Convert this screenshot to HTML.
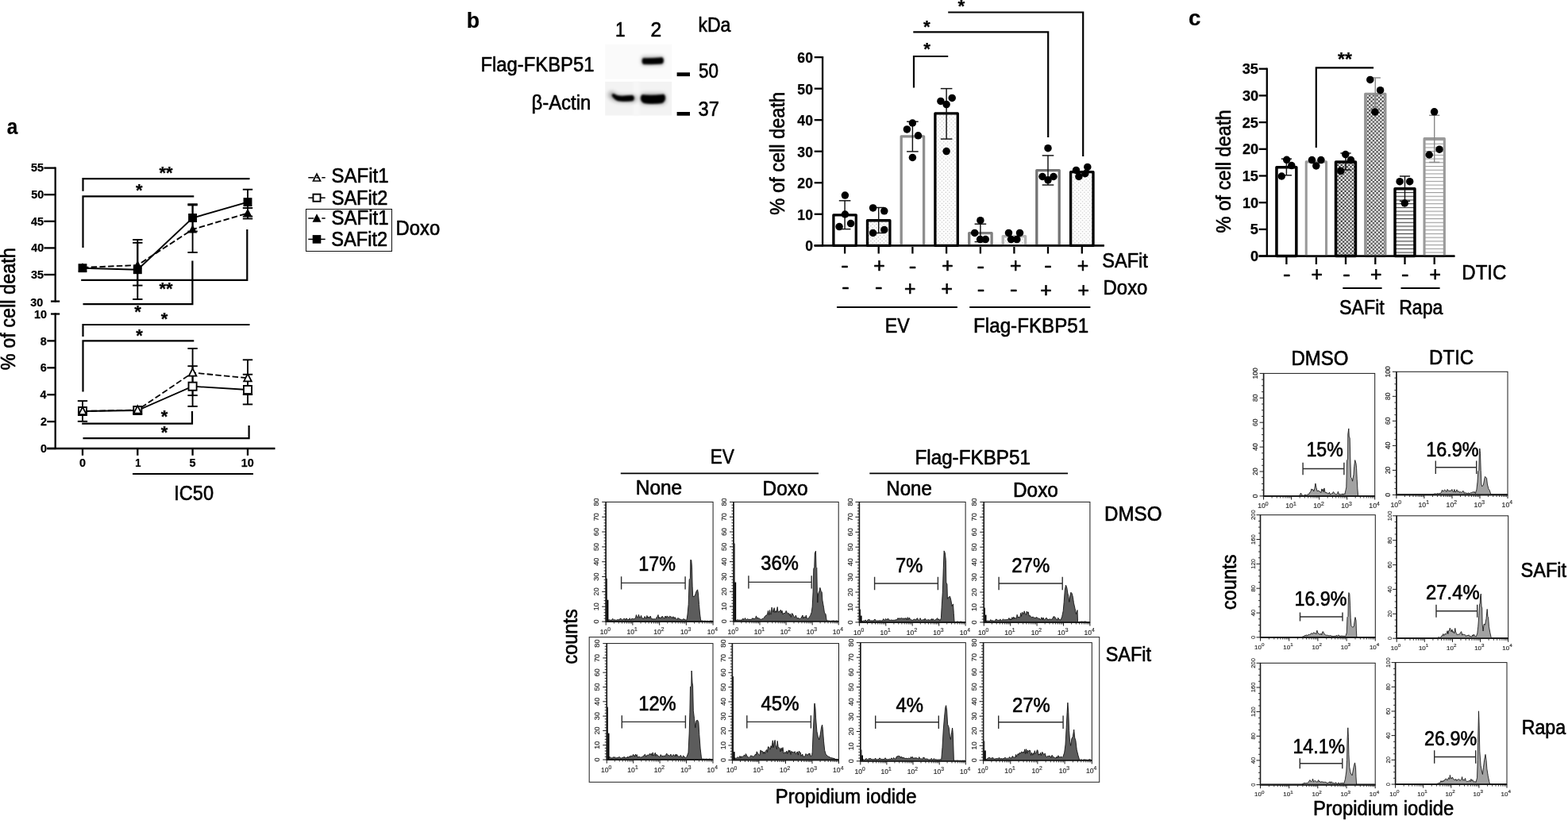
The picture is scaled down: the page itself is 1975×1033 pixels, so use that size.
<!DOCTYPE html>
<html lang="en">
<head>
<meta charset="utf-8">
<title>Figure: SAFit and cell death</title>
<style>
html,body{margin:0;padding:0;background:#fff;}
body{width:1975px;height:1033px;overflow:hidden;}
svg{display:block;}
svg text{font-family:'Liberation Sans', Arial, Helvetica, sans-serif;stroke:#000;stroke-width:0.62px;stroke-linejoin:round;}
svg text.b{stroke-width:0.25px;}
svg text.s{stroke:#2c2c2c;stroke-width:0.18px;}
</style>
</head>
<body>
<svg width="1975" height="1033" viewBox="0 0 1975 1033">
<defs>
<pattern id="dotL" width="4.72" height="4.72" patternUnits="userSpaceOnUse" patternTransform="translate(0.6 0.3)"><rect width="4.72" height="4.72" fill="#fff"/><circle cx="1.18" cy="1.18" r="0.62" fill="#b4b4b4"/><circle cx="3.54" cy="3.54" r="0.62" fill="#b4b4b4"/></pattern>
<pattern id="dotM" width="4.72" height="4.72" patternUnits="userSpaceOnUse" patternTransform="translate(0.6 0.3)"><rect width="4.72" height="4.72" fill="#fff"/><circle cx="1.18" cy="1.18" r="0.7" fill="#a8a8a8"/><circle cx="3.54" cy="3.54" r="0.7" fill="#a8a8a8"/></pattern>
<pattern id="chk" width="4.72" height="4.72" patternUnits="userSpaceOnUse" patternTransform="translate(1.2 1.4)"><rect width="4.72" height="4.72" fill="#fff"/><rect width="2.36" height="2.36" fill="#3c3c3c"/><rect x="2.36" y="2.36" width="2.36" height="2.36" fill="#3c3c3c"/></pattern>
<pattern id="chkG" width="4.72" height="4.72" patternUnits="userSpaceOnUse" patternTransform="translate(1.2 1.4)"><rect width="4.72" height="4.72" fill="#fff"/><rect width="2.36" height="2.36" fill="#4a4a4a"/><rect x="2.36" y="2.36" width="2.36" height="2.36" fill="#4a4a4a"/></pattern>
<pattern id="hl" width="6" height="4.72" patternUnits="userSpaceOnUse" patternTransform="translate(0 1.29)"><rect width="6" height="4.72" fill="#fff"/><rect y="0" width="6" height="1.1" fill="#3a3a3a"/></pattern>
<pattern id="hlG" width="6" height="4.72" patternUnits="userSpaceOnUse" patternTransform="translate(0 1.29)"><rect width="6" height="4.72" fill="#fff"/><rect y="0" width="6" height="1.1" fill="#9c9c9c"/></pattern>
<filter id="blur1" x="-30%" y="-80%" width="160%" height="260%"><feGaussianBlur stdDeviation="1.0"/></filter>
<filter id="blur2" x="-30%" y="-80%" width="160%" height="260%"><feGaussianBlur stdDeviation="2.5"/></filter>
</defs>

<g id="panel-a">
<text font-size="27.5" transform="translate(8.67 169.00) scale(0.8851 1)" font-weight="bold" class="b">a</text>
<text font-size="25.2" transform="translate(19.40 466.22) rotate(-90) scale(0.9325 1)">% of cell death</text>
<line x1="69.70" y1="210.50" x2="69.70" y2="380.70" stroke="#000" stroke-width="2.3"/>
<line x1="69.70" y1="394.40" x2="69.70" y2="566.10" stroke="#000" stroke-width="2.3"/>
<line x1="59.30" y1="565.00" x2="346.50" y2="565.00" stroke="#000" stroke-width="2.3"/>
<line x1="55.40" y1="211.60" x2="69.70" y2="211.60" stroke="#000" stroke-width="2.3"/>
<text font-size="14.4" transform="translate(39.08 216.45) scale(1.0000 1)" font-weight="bold" class="b">55</text>
<line x1="55.40" y1="245.20" x2="69.70" y2="245.20" stroke="#000" stroke-width="2.3"/>
<text font-size="14.4" transform="translate(39.29 250.05) scale(1.0000 1)" font-weight="bold" class="b">50</text>
<line x1="55.40" y1="278.80" x2="69.70" y2="278.80" stroke="#000" stroke-width="2.3"/>
<text font-size="14.4" transform="translate(39.08 283.65) scale(1.0000 1)" font-weight="bold" class="b">45</text>
<line x1="55.40" y1="312.40" x2="69.70" y2="312.40" stroke="#000" stroke-width="2.3"/>
<text font-size="14.4" transform="translate(39.29 317.25) scale(1.0000 1)" font-weight="bold" class="b">40</text>
<line x1="55.40" y1="346.00" x2="69.70" y2="346.00" stroke="#000" stroke-width="2.3"/>
<text font-size="14.4" transform="translate(39.08 350.85) scale(1.0000 1)" font-weight="bold" class="b">35</text>
<line x1="64.00" y1="379.60" x2="75.20" y2="379.60" stroke="#000" stroke-width="2.3"/>
<text font-size="14.4" transform="translate(38.19 385.85) scale(1.0000 1)" font-weight="bold" class="b">30</text>
<line x1="64.00" y1="395.50" x2="75.20" y2="395.50" stroke="#000" stroke-width="2.3"/>
<text font-size="14.4" transform="translate(42.89 401.05) scale(1.0000 1)" font-weight="bold" class="b">10</text>
<line x1="59.30" y1="429.40" x2="69.70" y2="429.40" stroke="#000" stroke-width="2.3"/>
<text font-size="14.4" transform="translate(50.74 434.55) scale(1.0000 1)" font-weight="bold" class="b">8</text>
<line x1="59.30" y1="463.30" x2="69.70" y2="463.30" stroke="#000" stroke-width="2.3"/>
<text font-size="14.4" transform="translate(50.81 468.45) scale(1.0000 1)" font-weight="bold" class="b">6</text>
<line x1="59.30" y1="497.20" x2="69.70" y2="497.20" stroke="#000" stroke-width="2.3"/>
<text font-size="14.4" transform="translate(50.38 502.35) scale(1.0000 1)" font-weight="bold" class="b">4</text>
<line x1="59.30" y1="531.10" x2="69.70" y2="531.10" stroke="#000" stroke-width="2.3"/>
<text font-size="14.4" transform="translate(50.88 536.25) scale(1.0000 1)" font-weight="bold" class="b">2</text>
<line x1="59.30" y1="565.00" x2="69.70" y2="565.00" stroke="#000" stroke-width="2.3"/>
<text font-size="14.4" transform="translate(50.88 570.15) scale(1.0000 1)" font-weight="bold" class="b">0</text>
<line x1="104.00" y1="565.00" x2="104.00" y2="573.80" stroke="#000" stroke-width="2.3"/>
<text font-size="14.4" transform="translate(100.00 587.80) scale(1.0000 1)" font-weight="bold" class="b">0</text>
<line x1="173.30" y1="565.00" x2="173.30" y2="573.80" stroke="#000" stroke-width="2.3"/>
<text font-size="14.4" transform="translate(170.24 587.80) scale(0.9000 1)" font-weight="bold" class="b">1</text>
<line x1="242.60" y1="565.00" x2="242.60" y2="573.80" stroke="#000" stroke-width="2.3"/>
<text font-size="14.4" transform="translate(238.57 587.80) scale(1.0000 1)" font-weight="bold" class="b">5</text>
<line x1="312.00" y1="565.00" x2="312.00" y2="573.80" stroke="#000" stroke-width="2.3"/>
<text font-size="14.4" transform="translate(303.83 587.80) scale(1.0000 1)" font-weight="bold" class="b">10</text>
<line x1="167.00" y1="597.00" x2="319.00" y2="597.00" stroke="#000" stroke-width="2"/>
<text font-size="25.2" transform="translate(219.28 630.30) scale(0.9356 1)">IC50</text>
<path d="M104.5,240.7 V225.2 H314.5" stroke="#000" stroke-width="2.2" fill="none"/>
<path d="M104.5,311.9 V247.4 H244.3" stroke="#000" stroke-width="2.2" fill="none"/>
<path d="M102.2,352.8 H311.3 V289" stroke="#000" stroke-width="2.2" fill="none"/>
<path d="M104.5,383.2 H242.4 V328.6" stroke="#000" stroke-width="2.2" fill="none"/>
<text x="209.00" y="224.62" font-size="22" font-weight="bold" class="b" text-anchor="middle">**</text>
<text x="175.20" y="246.92" font-size="22" font-weight="bold" class="b" text-anchor="middle">*</text>
<text x="209.00" y="371.12" font-size="22" font-weight="bold" class="b" text-anchor="middle">**</text>
<text x="173.60" y="400.12" font-size="22" font-weight="bold" class="b" text-anchor="middle">*</text>
<line x1="173.30" y1="302.00" x2="173.30" y2="377.00" stroke="#000" stroke-width="1.9"/>
<line x1="167.10" y1="302.00" x2="179.50" y2="302.00" stroke="#000" stroke-width="1.9"/>
<line x1="167.10" y1="377.00" x2="179.50" y2="377.00" stroke="#000" stroke-width="1.9"/>
<line x1="173.30" y1="305.80" x2="173.30" y2="359.60" stroke="#000" stroke-width="1.9"/>
<line x1="167.10" y1="305.80" x2="179.50" y2="305.80" stroke="#000" stroke-width="1.9"/>
<line x1="167.10" y1="359.60" x2="179.50" y2="359.60" stroke="#000" stroke-width="1.9"/>
<line x1="242.60" y1="257.20" x2="242.60" y2="291.50" stroke="#000" stroke-width="1.9"/>
<line x1="236.40" y1="257.20" x2="248.80" y2="257.20" stroke="#000" stroke-width="1.9"/>
<line x1="236.40" y1="291.50" x2="248.80" y2="291.50" stroke="#000" stroke-width="1.9"/>
<line x1="242.60" y1="258.40" x2="242.60" y2="318.00" stroke="#000" stroke-width="1.9"/>
<line x1="236.40" y1="258.40" x2="248.80" y2="258.40" stroke="#000" stroke-width="1.9"/>
<line x1="236.40" y1="318.00" x2="248.80" y2="318.00" stroke="#000" stroke-width="1.9"/>
<line x1="312.00" y1="238.70" x2="312.00" y2="272.60" stroke="#000" stroke-width="1.9"/>
<line x1="305.80" y1="238.70" x2="318.20" y2="238.70" stroke="#000" stroke-width="1.9"/>
<line x1="305.80" y1="272.60" x2="318.20" y2="272.60" stroke="#000" stroke-width="1.9"/>
<line x1="312.00" y1="262.00" x2="312.00" y2="275.50" stroke="#000" stroke-width="1.9"/>
<line x1="305.80" y1="262.00" x2="318.20" y2="262.00" stroke="#000" stroke-width="1.9"/>
<line x1="305.80" y1="275.50" x2="318.20" y2="275.50" stroke="#000" stroke-width="1.9"/>
<path d="M104.00,337.00 L173.30,334.00 L242.60,289.00 L312.00,268.50" stroke="#000" stroke-width="1.9" fill="none" stroke-dasharray="7.5 3.2"/>
<path d="M104.00,337.70 L173.30,339.70 L242.60,274.50 L312.00,254.60" stroke="#000" stroke-width="1.9" fill="none"/>
<polygon points="104.00,330.94 109.50,341.39 98.50,341.39" fill="#000"/>
<polygon points="173.30,327.94 178.80,338.39 167.80,338.39" fill="#000"/>
<polygon points="242.60,282.94 248.10,293.39 237.10,293.39" fill="#000"/>
<polygon points="312.00,262.44 317.50,272.89 306.50,272.89" fill="#000"/>
<rect x="98.55" y="332.25" width="10.90" height="10.90" fill="#000"/>
<rect x="167.85" y="334.25" width="10.90" height="10.90" fill="#000"/>
<rect x="237.15" y="269.05" width="10.90" height="10.90" fill="#000"/>
<rect x="306.55" y="249.15" width="10.90" height="10.90" fill="#000"/>
<path d="M104.5,423.9 V409 H314.5" stroke="#000" stroke-width="2.2" fill="none"/>
<path d="M104.5,493.6 V429.3 H244.3" stroke="#000" stroke-width="2.2" fill="none"/>
<path d="M103.2,533.6 H242 V518" stroke="#000" stroke-width="2.2" fill="none"/>
<path d="M104.5,552.1 H313.6 V536" stroke="#000" stroke-width="2.2" fill="none"/>
<text x="207.00" y="408.82" font-size="22" font-weight="bold" class="b" text-anchor="middle">*</text>
<text x="175.60" y="429.52" font-size="22" font-weight="bold" class="b" text-anchor="middle">*</text>
<text x="207.00" y="532.42" font-size="22" font-weight="bold" class="b" text-anchor="middle">*</text>
<text x="207.00" y="552.02" font-size="22" font-weight="bold" class="b" text-anchor="middle">*</text>
<line x1="104.00" y1="505.10" x2="104.00" y2="530.80" stroke="#000" stroke-width="1.9"/>
<line x1="97.80" y1="505.10" x2="110.20" y2="505.10" stroke="#000" stroke-width="1.9"/>
<line x1="97.80" y1="530.80" x2="110.20" y2="530.80" stroke="#000" stroke-width="1.9"/>
<line x1="242.60" y1="439.00" x2="242.60" y2="498.10" stroke="#000" stroke-width="1.9"/>
<line x1="236.40" y1="439.00" x2="248.80" y2="439.00" stroke="#000" stroke-width="1.9"/>
<line x1="236.40" y1="498.10" x2="248.80" y2="498.10" stroke="#000" stroke-width="1.9"/>
<line x1="242.60" y1="461.20" x2="242.60" y2="511.90" stroke="#000" stroke-width="1.9"/>
<line x1="236.40" y1="461.20" x2="248.80" y2="461.20" stroke="#000" stroke-width="1.9"/>
<line x1="236.40" y1="511.90" x2="248.80" y2="511.90" stroke="#000" stroke-width="1.9"/>
<line x1="312.00" y1="453.30" x2="312.00" y2="497.00" stroke="#000" stroke-width="1.9"/>
<line x1="305.80" y1="453.30" x2="318.20" y2="453.30" stroke="#000" stroke-width="1.9"/>
<line x1="305.80" y1="497.00" x2="318.20" y2="497.00" stroke="#000" stroke-width="1.9"/>
<line x1="312.00" y1="471.70" x2="312.00" y2="509.40" stroke="#000" stroke-width="1.9"/>
<line x1="305.80" y1="471.70" x2="318.20" y2="471.70" stroke="#000" stroke-width="1.9"/>
<line x1="305.80" y1="509.40" x2="318.20" y2="509.40" stroke="#000" stroke-width="1.9"/>
<path d="M104.00,518.00 L173.30,516.50 L242.60,469.50 L312.00,476.30" stroke="#000" stroke-width="1.8" fill="none" stroke-dasharray="7.5 3.2"/>
<path d="M104.00,518.00 L173.30,517.00 L242.60,486.70 L312.00,491.00" stroke="#000" stroke-width="1.8" fill="none"/>
<rect x="98.95" y="512.95" width="10.10" height="10.10" fill="#fff" stroke="#000" stroke-width="1.9"/>
<rect x="168.25" y="511.95" width="10.10" height="10.10" fill="#fff" stroke="#000" stroke-width="1.9"/>
<rect x="237.55" y="481.65" width="10.10" height="10.10" fill="#fff" stroke="#000" stroke-width="1.9"/>
<rect x="306.95" y="485.95" width="10.10" height="10.10" fill="#fff" stroke="#000" stroke-width="1.9"/>
<polygon points="104.00,512.61 108.80,522.03 99.20,522.03" fill="#fff" stroke="#000" stroke-width="1.8" stroke-linejoin="miter"/>
<polygon points="173.30,511.11 178.10,520.53 168.50,520.53" fill="#fff" stroke="#000" stroke-width="1.8" stroke-linejoin="miter"/>
<polygon points="242.60,464.11 247.40,473.53 237.80,473.53" fill="#fff" stroke="#000" stroke-width="1.8" stroke-linejoin="miter"/>
<polygon points="312.00,470.91 316.80,480.33 307.20,480.33" fill="#fff" stroke="#000" stroke-width="1.8" stroke-linejoin="miter"/>
<line x1="388.30" y1="223.70" x2="409.70" y2="223.70" stroke="#000" stroke-width="1.5" stroke-dasharray="7 3 4 3"/>
<polygon points="399.00,219.14 403.50,227.99 394.50,227.99" fill="none" stroke="#000" stroke-width="1.7" stroke-linejoin="miter"/>
<text font-size="25.2" transform="translate(417.62 229.90) scale(0.9507 1)">SAFit1</text>
<line x1="388.30" y1="249.20" x2="409.70" y2="249.20" stroke="#000" stroke-width="1.5"/>
<rect x="394.45" y="244.65" width="9.10" height="9.10" fill="#fff" stroke="#000" stroke-width="1.9"/>
<text font-size="25.2" transform="translate(417.64 257.50) scale(0.9371 1)">SAFit2</text>
<line x1="388.30" y1="274.90" x2="409.70" y2="274.90" stroke="#000" stroke-width="1.5" stroke-dasharray="7 3 4 3"/>
<polygon points="399.00,269.34 404.50,279.79 393.50,279.79" fill="#000"/>
<text font-size="25.2" transform="translate(417.62 282.90) scale(0.9507 1)">SAFit1</text>
<line x1="388.30" y1="301.40" x2="409.70" y2="301.40" stroke="#000" stroke-width="1.5"/>
<rect x="393.70" y="296.10" width="10.60" height="10.60" fill="#000"/>
<text font-size="25.2" transform="translate(417.24 310.20) scale(0.9384 1)">SAFit2</text>
<rect x="385.50" y="263.50" width="108.00" height="53.00" fill="none" stroke="#111" stroke-width="1"/>
<text font-size="25.2" transform="translate(498.59 296.40) scale(0.9459 1)">Doxo</text>
</g>
<g id="panel-b">
<text font-size="27.5" transform="translate(587.86 34.90) scale(0.9721 1)" font-weight="bold" class="b">b</text>
<text font-size="25.2" transform="translate(605.39 89.90) scale(0.9463 1)">Flag-FKBP51</text>
<text font-size="25.2" transform="translate(669.42 137.70) scale(0.9500 1)">β-Actin</text>
<text font-size="25.2" transform="translate(775.02 45.70) scale(0.9000 1)">1</text>
<text font-size="25.2" transform="translate(819.57 45.70) scale(0.9768 1)">2</text>
<text font-size="25.2" transform="translate(879.40 39.60) scale(0.9140 1)">kDa</text>
<text font-size="25.2" transform="translate(880.00 98.20) scale(0.8895 1)">50</text>
<text font-size="25.2" transform="translate(879.45 145.50) scale(0.9415 1)">37</text>
<rect x="852.60" y="91.30" width="16.40" height="4.80" fill="#000"/>
<rect x="852.60" y="141.00" width="16.40" height="4.70" fill="#000"/>
<rect x="762.20" y="55.70" width="84.00" height="44.10" fill="#fafafa"/>
<rect x="762.20" y="102.80" width="84.00" height="42.70" fill="#f3f3f3"/>
<rect x="797.50" y="102.80" width="8.00" height="42.70" fill="#f7f7f7" filter="url(#blur1)"/>
<g filter="url(#blur2)" opacity="0.3">
<rect x="808.00" y="71.00" width="28.00" height="11.00" fill="#000" rx="3"/>
<path d="M770.5,119.5 C776,126 786,124.0 798,124.2" stroke="#000" stroke-width="9" fill="none" stroke-linecap="round"/>
<rect x="806.50" y="117.50" width="32.50" height="14.00" fill="#000" rx="5"/>
</g>
<g filter="url(#blur1)">
<path d="M810.2,73.6 C816,73.9 828,73.3 834.0,72.6 C836.0,73.6 836.0,78.6 834.2,79.9 C828,80.6 816,81.0 810.4,80.6 C808.6,79.6 808.6,74.6 810.2,73.6 Z" fill="#000" stroke="#000" stroke-width="0.8"/>
<path d="M771.5,118.6 C773.5,117.8 776,120.6 780,121.0 C786,121.6 793,120.0 797.0,120.4 C798.9,121.6 798.9,125.6 797.0,126.8 C791,127.6 784,127.6 779.5,127.0 C775.5,126.2 771.5,122.6 771.0,120.2 Z" fill="#000" stroke="#000" stroke-width="0.8"/>
<path d="M809.0,119.6 C815,120.4 830,120.4 835.8,119.0 C838.6,120.6 838.6,127.6 834.0,129.6 C826,130.9 815,130.7 810.6,129.4 C806.4,127.4 806.4,121.4 809.0,119.6 Z" fill="#000" stroke="#000" stroke-width="0.8"/>
</g>
<text font-size="25.2" transform="translate(987.90 270.63) rotate(-90) scale(0.9368 1)">% of cell death</text>
<line x1="1036.10" y1="71.02" x2="1036.10" y2="310.40" stroke="#000" stroke-width="2.3"/>
<line x1="1025.70" y1="309.30" x2="1390.80" y2="309.30" stroke="#000" stroke-width="2.3"/>
<line x1="1025.70" y1="309.30" x2="1036.10" y2="309.30" stroke="#000" stroke-width="2.3"/>
<text font-size="17.6" transform="translate(1014.14 316.35) scale(1.0000 1)" font-weight="bold" class="b">0</text>
<line x1="1025.70" y1="269.77" x2="1036.10" y2="269.77" stroke="#000" stroke-width="2.3"/>
<text font-size="17.6" transform="translate(1004.37 276.82) scale(1.0000 1)" font-weight="bold" class="b">10</text>
<line x1="1025.70" y1="230.24" x2="1036.10" y2="230.24" stroke="#000" stroke-width="2.3"/>
<text font-size="17.6" transform="translate(1004.37 237.29) scale(1.0000 1)" font-weight="bold" class="b">20</text>
<line x1="1025.70" y1="190.71" x2="1036.10" y2="190.71" stroke="#000" stroke-width="2.3"/>
<text font-size="17.6" transform="translate(1004.37 197.76) scale(1.0000 1)" font-weight="bold" class="b">30</text>
<line x1="1025.70" y1="151.18" x2="1036.10" y2="151.18" stroke="#000" stroke-width="2.3"/>
<text font-size="17.6" transform="translate(1004.37 158.23) scale(1.0000 1)" font-weight="bold" class="b">40</text>
<line x1="1025.70" y1="111.65" x2="1036.10" y2="111.65" stroke="#000" stroke-width="2.3"/>
<text font-size="17.6" transform="translate(1004.37 118.70) scale(1.0000 1)" font-weight="bold" class="b">50</text>
<line x1="1025.70" y1="72.12" x2="1036.10" y2="72.12" stroke="#000" stroke-width="2.3"/>
<text font-size="17.6" transform="translate(1004.37 79.17) scale(1.0000 1)" font-weight="bold" class="b">60</text>
<line x1="1064.10" y1="309.30" x2="1064.10" y2="319.50" stroke="#000" stroke-width="2.3"/>
<line x1="1106.70" y1="309.30" x2="1106.70" y2="319.50" stroke="#000" stroke-width="2.3"/>
<line x1="1149.40" y1="309.30" x2="1149.40" y2="319.50" stroke="#000" stroke-width="2.3"/>
<line x1="1192.10" y1="309.30" x2="1192.10" y2="319.50" stroke="#000" stroke-width="2.3"/>
<line x1="1234.90" y1="309.30" x2="1234.90" y2="319.50" stroke="#000" stroke-width="2.3"/>
<line x1="1277.40" y1="309.30" x2="1277.40" y2="319.50" stroke="#000" stroke-width="2.3"/>
<line x1="1320.00" y1="309.30" x2="1320.00" y2="319.50" stroke="#000" stroke-width="2.3"/>
<line x1="1362.80" y1="309.30" x2="1362.80" y2="319.50" stroke="#000" stroke-width="2.3"/>
<rect x="1049.90" y="270.85" width="28.40" height="38.45" fill="#fff" stroke="#000" stroke-width="3.3" stroke-linejoin="round"/>
<rect x="1092.50" y="277.75" width="28.40" height="31.55" fill="url(#dotM)" stroke="#000" stroke-width="3.3" stroke-linejoin="round"/>
<rect x="1135.20" y="171.85" width="28.40" height="137.45" fill="#fff" stroke="#8e8e8e" stroke-width="3.3" stroke-linejoin="round"/>
<rect x="1177.90" y="142.95" width="28.40" height="166.35" fill="url(#dotL)" stroke="#000" stroke-width="3.3" stroke-linejoin="round"/>
<rect x="1220.70" y="293.55" width="28.40" height="15.75" fill="#fff" stroke="#808080" stroke-width="3.3" stroke-linejoin="round"/>
<rect x="1263.20" y="297.55" width="28.40" height="11.75" fill="url(#dotM)" stroke="#b4b4b4" stroke-width="3.3" stroke-linejoin="round"/>
<rect x="1305.80" y="214.55" width="28.40" height="94.75" fill="#fff" stroke="#747474" stroke-width="3.3" stroke-linejoin="round"/>
<rect x="1348.60" y="216.65" width="28.40" height="92.65" fill="url(#dotL)" stroke="#000" stroke-width="3.3" stroke-linejoin="round"/>
<line x1="1025.70" y1="309.30" x2="1390.80" y2="309.30" stroke="#000" stroke-width="2.3"/>
<line x1="1064.10" y1="252.80" x2="1064.10" y2="288.60" stroke="#111" stroke-width="1.45"/>
<line x1="1056.80" y1="252.80" x2="1071.40" y2="252.80" stroke="#111" stroke-width="1.45"/>
<line x1="1056.80" y1="288.60" x2="1071.40" y2="288.60" stroke="#111" stroke-width="1.45"/>
<line x1="1106.70" y1="261.50" x2="1106.70" y2="293.50" stroke="#111" stroke-width="1.45"/>
<line x1="1099.40" y1="261.50" x2="1114.00" y2="261.50" stroke="#111" stroke-width="1.45"/>
<line x1="1099.40" y1="293.50" x2="1114.00" y2="293.50" stroke="#111" stroke-width="1.45"/>
<line x1="1149.40" y1="153.20" x2="1149.40" y2="190.90" stroke="#111" stroke-width="1.45"/>
<line x1="1142.10" y1="153.20" x2="1156.70" y2="153.20" stroke="#111" stroke-width="1.45"/>
<line x1="1142.10" y1="190.90" x2="1156.70" y2="190.90" stroke="#111" stroke-width="1.45"/>
<line x1="1192.10" y1="111.60" x2="1192.10" y2="175.10" stroke="#111" stroke-width="1.45"/>
<line x1="1184.80" y1="111.60" x2="1199.40" y2="111.60" stroke="#111" stroke-width="1.45"/>
<line x1="1184.80" y1="175.10" x2="1199.40" y2="175.10" stroke="#111" stroke-width="1.45"/>
<line x1="1234.90" y1="282.20" x2="1234.90" y2="304.60" stroke="#111" stroke-width="1.45"/>
<line x1="1227.60" y1="282.20" x2="1242.20" y2="282.20" stroke="#111" stroke-width="1.45"/>
<line x1="1227.60" y1="304.60" x2="1242.20" y2="304.60" stroke="#111" stroke-width="1.45"/>
<line x1="1320.00" y1="195.90" x2="1320.00" y2="233.00" stroke="#111" stroke-width="1.45"/>
<line x1="1312.70" y1="195.90" x2="1327.30" y2="195.90" stroke="#111" stroke-width="1.45"/>
<line x1="1312.70" y1="233.00" x2="1327.30" y2="233.00" stroke="#111" stroke-width="1.45"/>
<circle cx="1064.40" cy="246.10" r="4.75" fill="#000"/>
<circle cx="1064.40" cy="270.00" r="4.75" fill="#000"/>
<circle cx="1057.10" cy="285.60" r="4.75" fill="#000"/>
<circle cx="1071.60" cy="281.60" r="4.75" fill="#000"/>
<circle cx="1099.60" cy="261.90" r="4.75" fill="#000"/>
<circle cx="1113.80" cy="265.80" r="4.75" fill="#000"/>
<circle cx="1099.60" cy="293.50" r="4.75" fill="#000"/>
<circle cx="1113.80" cy="289.50" r="4.75" fill="#000"/>
<circle cx="1149.40" cy="155.00" r="4.75" fill="#000"/>
<circle cx="1142.40" cy="162.90" r="4.75" fill="#000"/>
<circle cx="1156.50" cy="170.80" r="4.75" fill="#000"/>
<circle cx="1149.40" cy="198.50" r="4.75" fill="#000"/>
<circle cx="1184.90" cy="127.40" r="4.75" fill="#000"/>
<circle cx="1199.20" cy="123.40" r="4.75" fill="#000"/>
<circle cx="1192.10" cy="131.60" r="4.75" fill="#000"/>
<circle cx="1192.10" cy="190.60" r="4.75" fill="#000"/>
<circle cx="1234.90" cy="277.70" r="4.75" fill="#000"/>
<circle cx="1227.70" cy="293.40" r="4.75" fill="#000"/>
<circle cx="1234.60" cy="301.60" r="4.75" fill="#000"/>
<circle cx="1241.30" cy="301.60" r="4.75" fill="#000"/>
<circle cx="1270.50" cy="293.40" r="4.75" fill="#000"/>
<circle cx="1284.50" cy="293.40" r="4.75" fill="#000"/>
<circle cx="1273.50" cy="301.60" r="4.75" fill="#000"/>
<circle cx="1280.80" cy="301.60" r="4.75" fill="#000"/>
<circle cx="1320.00" cy="186.70" r="4.75" fill="#000"/>
<circle cx="1313.00" cy="222.50" r="4.75" fill="#000"/>
<circle cx="1327.00" cy="222.50" r="4.75" fill="#000"/>
<circle cx="1320.00" cy="226.80" r="4.75" fill="#000"/>
<circle cx="1355.50" cy="214.40" r="4.75" fill="#000"/>
<circle cx="1369.80" cy="210.40" r="4.75" fill="#000"/>
<circle cx="1358.90" cy="222.50" r="4.75" fill="#000"/>
<circle cx="1366.80" cy="218.70" r="4.75" fill="#000"/>
<line x1="1275.50" y1="293.60" x2="1275.50" y2="297.00" stroke="#fff" stroke-width="1.0"/>
<line x1="1279.30" y1="293.60" x2="1279.30" y2="297.00" stroke="#fff" stroke-width="1.0"/>
<line x1="1275.00" y1="294.70" x2="1279.80" y2="294.70" stroke="#fff" stroke-width="0.9"/>
<line x1="1360.90" y1="212.00" x2="1360.90" y2="215.20" stroke="#fff" stroke-width="1.0"/>
<line x1="1364.70" y1="212.00" x2="1364.70" y2="215.20" stroke="#fff" stroke-width="1.0"/>
<line x1="1360.40" y1="213.00" x2="1365.20" y2="213.00" stroke="#fff" stroke-width="0.9"/>
<path d="M1151,110.6 V71 H1194.2" stroke="#000" stroke-width="2.2" fill="none"/>
<path d="M1150.3,40.3 H1320.2 V173" stroke="#000" stroke-width="2.2" fill="none"/>
<path d="M1194.2,15.5 H1364.2 V197" stroke="#000" stroke-width="2.2" fill="none"/>
<text x="1167.60" y="69.45" font-size="22.5" font-weight="bold" class="b" text-anchor="middle">*</text>
<text x="1167.30" y="40.55" font-size="22.5" font-weight="bold" class="b" text-anchor="middle">*</text>
<text x="1211.00" y="15.45" font-size="22.5" font-weight="bold" class="b" text-anchor="middle">*</text>
<text font-size="25.2" transform="translate(1059.21 343.40) scale(1.1338 1)">-</text>
<text font-size="25.2" transform="translate(1100.26 342.64) scale(0.9818 1)">+</text>
<text font-size="25.2" transform="translate(1144.81 343.80) scale(1.1338 1)">-</text>
<text font-size="25.2" transform="translate(1186.26 343.44) scale(0.9818 1)">+</text>
<text font-size="25.2" transform="translate(1230.41 343.70) scale(1.1338 1)">-</text>
<text font-size="25.2" transform="translate(1271.96 342.94) scale(0.9818 1)">+</text>
<text font-size="25.2" transform="translate(1315.21 343.10) scale(1.1338 1)">-</text>
<text font-size="25.2" transform="translate(1356.76 342.64) scale(0.9818 1)">+</text>
<text font-size="25.2" transform="translate(1060.21 370.20) scale(1.1338 1)">-</text>
<text font-size="25.2" transform="translate(1101.91 370.20) scale(1.1338 1)">-</text>
<text font-size="25.2" transform="translate(1138.96 372.14) scale(0.9818 1)">+</text>
<text font-size="25.2" transform="translate(1185.56 372.14) scale(0.9818 1)">+</text>
<text font-size="25.2" transform="translate(1230.71 372.60) scale(1.1338 1)">-</text>
<text font-size="25.2" transform="translate(1272.01 372.60) scale(1.1338 1)">-</text>
<text font-size="25.2" transform="translate(1310.36 373.84) scale(0.9818 1)">+</text>
<text font-size="25.2" transform="translate(1357.46 373.84) scale(0.9818 1)">+</text>
<text font-size="25.2" transform="translate(1388.34 336.50) scale(0.9345 1)">SAFit</text>
<text font-size="25.2" transform="translate(1389.59 370.50) scale(0.9495 1)">Doxo</text>
<line x1="1054.00" y1="386.90" x2="1205.90" y2="386.90" stroke="#000" stroke-width="2"/>
<line x1="1221.20" y1="386.90" x2="1373.40" y2="386.90" stroke="#000" stroke-width="2"/>
<text font-size="25.2" transform="translate(1114.74 418.50) scale(0.9238 1)">EV</text>
<text font-size="25.2" transform="translate(1226.07 418.50) scale(0.9598 1)">Flag-FKBP51</text>
</g>
<g id="panel-c">
<text font-size="27.8" transform="translate(1497.09 31.80) scale(0.9938 1)" font-weight="bold" class="b">c</text>
<text font-size="25.2" transform="translate(1549.70 293.43) rotate(-90) scale(0.9386 1)">% of cell death</text>
<line x1="1595.80" y1="85.60" x2="1595.80" y2="323.70" stroke="#000" stroke-width="2.3"/>
<line x1="1585.70" y1="322.60" x2="1832.40" y2="322.60" stroke="#000" stroke-width="2.3"/>
<line x1="1585.70" y1="322.60" x2="1595.80" y2="322.60" stroke="#000" stroke-width="2.3"/>
<text font-size="18.2" transform="translate(1575.03 329.16) scale(1.0000 1)" font-weight="bold" class="b">0</text>
<line x1="1585.70" y1="288.90" x2="1595.80" y2="288.90" stroke="#000" stroke-width="2.3"/>
<text font-size="18.2" transform="translate(1574.75 295.46) scale(1.0000 1)" font-weight="bold" class="b">5</text>
<line x1="1585.70" y1="255.20" x2="1595.80" y2="255.20" stroke="#000" stroke-width="2.3"/>
<text font-size="18.2" transform="translate(1564.93 261.76) scale(1.0000 1)" font-weight="bold" class="b">10</text>
<line x1="1585.70" y1="221.50" x2="1595.80" y2="221.50" stroke="#000" stroke-width="2.3"/>
<text font-size="18.2" transform="translate(1564.65 228.06) scale(1.0000 1)" font-weight="bold" class="b">15</text>
<line x1="1585.70" y1="187.80" x2="1595.80" y2="187.80" stroke="#000" stroke-width="2.3"/>
<text font-size="18.2" transform="translate(1564.93 194.36) scale(1.0000 1)" font-weight="bold" class="b">20</text>
<line x1="1585.70" y1="154.10" x2="1595.80" y2="154.10" stroke="#000" stroke-width="2.3"/>
<text font-size="18.2" transform="translate(1564.65 160.66) scale(1.0000 1)" font-weight="bold" class="b">25</text>
<line x1="1585.70" y1="120.40" x2="1595.80" y2="120.40" stroke="#000" stroke-width="2.3"/>
<text font-size="18.2" transform="translate(1564.93 126.96) scale(1.0000 1)" font-weight="bold" class="b">30</text>
<line x1="1585.70" y1="86.70" x2="1595.80" y2="86.70" stroke="#000" stroke-width="2.3"/>
<text font-size="18.2" transform="translate(1564.65 93.26) scale(1.0000 1)" font-weight="bold" class="b">35</text>
<line x1="1620.40" y1="322.60" x2="1620.40" y2="333.00" stroke="#000" stroke-width="2.3"/>
<line x1="1657.90" y1="322.60" x2="1657.90" y2="333.00" stroke="#000" stroke-width="2.3"/>
<line x1="1695.00" y1="322.60" x2="1695.00" y2="333.00" stroke="#000" stroke-width="2.3"/>
<line x1="1732.30" y1="322.60" x2="1732.30" y2="333.00" stroke="#000" stroke-width="2.3"/>
<line x1="1769.50" y1="322.60" x2="1769.50" y2="333.00" stroke="#000" stroke-width="2.3"/>
<line x1="1806.70" y1="322.60" x2="1806.70" y2="333.00" stroke="#000" stroke-width="2.3"/>
<rect x="1607.95" y="210.65" width="24.90" height="111.95" fill="#fff" stroke="#000" stroke-width="3.5" stroke-linejoin="round"/>
<rect x="1645.25" y="203.85" width="25.30" height="118.75" fill="#fff" stroke="#9a9a9a" stroke-width="3.1" stroke-linejoin="round"/>
<rect x="1682.55" y="204.05" width="24.90" height="118.55" fill="url(#chk)" stroke="#000" stroke-width="3.5" stroke-linejoin="round"/>
<rect x="1719.65" y="118.35" width="25.30" height="204.25" fill="url(#chkG)" stroke="#949494" stroke-width="3.1" stroke-linejoin="round"/>
<rect x="1757.05" y="237.75" width="24.90" height="84.85" fill="url(#hl)" stroke="#000" stroke-width="3.5" stroke-linejoin="round"/>
<rect x="1794.05" y="174.65" width="25.30" height="147.95" fill="url(#hlG)" stroke="#9a9a9a" stroke-width="3.1" stroke-linejoin="round"/>
<line x1="1585.70" y1="322.60" x2="1832.40" y2="322.60" stroke="#000" stroke-width="2.3"/>
<line x1="1620.40" y1="200.10" x2="1620.40" y2="220.80" stroke="#111" stroke-width="1.45"/>
<line x1="1613.80" y1="200.10" x2="1627.00" y2="200.10" stroke="#111" stroke-width="1.45"/>
<line x1="1613.80" y1="220.80" x2="1627.00" y2="220.80" stroke="#111" stroke-width="1.45"/>
<line x1="1695.00" y1="193.00" x2="1695.00" y2="214.00" stroke="#111" stroke-width="1.45"/>
<line x1="1688.40" y1="193.00" x2="1701.60" y2="193.00" stroke="#111" stroke-width="1.45"/>
<line x1="1688.40" y1="214.00" x2="1701.60" y2="214.00" stroke="#111" stroke-width="1.45"/>
<line x1="1732.30" y1="98.00" x2="1732.30" y2="138.80" stroke="#8a8a8a" stroke-width="1.45"/>
<line x1="1725.70" y1="98.00" x2="1738.90" y2="98.00" stroke="#8a8a8a" stroke-width="1.45"/>
<line x1="1725.70" y1="138.80" x2="1738.90" y2="138.80" stroke="#8a8a8a" stroke-width="1.45"/>
<line x1="1769.50" y1="222.00" x2="1769.50" y2="253.30" stroke="#111" stroke-width="1.45"/>
<line x1="1762.90" y1="222.00" x2="1776.10" y2="222.00" stroke="#111" stroke-width="1.45"/>
<line x1="1762.90" y1="253.30" x2="1776.10" y2="253.30" stroke="#111" stroke-width="1.45"/>
<line x1="1806.70" y1="145.30" x2="1806.70" y2="204.40" stroke="#8a8a8a" stroke-width="1.45"/>
<line x1="1800.10" y1="145.30" x2="1813.30" y2="145.30" stroke="#8a8a8a" stroke-width="1.45"/>
<line x1="1800.10" y1="204.40" x2="1813.30" y2="204.40" stroke="#8a8a8a" stroke-width="1.45"/>
<circle cx="1620.70" cy="201.30" r="4.75" fill="#000"/>
<circle cx="1626.80" cy="208.60" r="4.75" fill="#000"/>
<circle cx="1614.30" cy="222.00" r="4.75" fill="#000"/>
<circle cx="1652.50" cy="201.60" r="4.75" fill="#000"/>
<circle cx="1663.90" cy="201.60" r="4.75" fill="#000"/>
<circle cx="1657.80" cy="208.90" r="4.75" fill="#000"/>
<circle cx="1694.80" cy="194.60" r="4.75" fill="#000"/>
<circle cx="1701.50" cy="201.60" r="4.75" fill="#000"/>
<circle cx="1688.80" cy="215.30" r="4.75" fill="#000"/>
<circle cx="1725.80" cy="100.40" r="4.75" fill="#000"/>
<circle cx="1738.60" cy="113.70" r="4.75" fill="#000"/>
<circle cx="1731.90" cy="141.10" r="4.75" fill="#000"/>
<circle cx="1763.10" cy="228.70" r="4.75" fill="#000"/>
<circle cx="1775.70" cy="228.70" r="4.75" fill="#000"/>
<circle cx="1769.30" cy="256.00" r="4.75" fill="#000"/>
<circle cx="1806.60" cy="140.80" r="4.75" fill="#000"/>
<circle cx="1813.00" cy="188.20" r="4.75" fill="#000"/>
<circle cx="1800.20" cy="195.00" r="4.75" fill="#000"/>
<path d="M1657.8,186 V85.4 H1730.1" stroke="#000" stroke-width="2.2" fill="none"/>
<text x="1694.00" y="83.18" font-size="23" font-weight="bold" class="b" text-anchor="middle">**</text>
<text font-size="25.2" transform="translate(1615.91 354.40) scale(1.1338 1)">-</text>
<text font-size="25.2" transform="translate(1651.46 354.04) scale(0.9818 1)">+</text>
<text font-size="25.2" transform="translate(1691.21 354.40) scale(1.1338 1)">-</text>
<text font-size="25.2" transform="translate(1726.06 354.04) scale(0.9818 1)">+</text>
<text font-size="25.2" transform="translate(1765.01 354.40) scale(1.1338 1)">-</text>
<text font-size="25.2" transform="translate(1800.56 354.04) scale(0.9818 1)">+</text>
<text font-size="25.2" transform="translate(1841.27 352.20) scale(0.9549 1)">DTIC</text>
<line x1="1691.30" y1="363.00" x2="1740.60" y2="363.00" stroke="#000" stroke-width="2"/>
<line x1="1764.50" y1="363.00" x2="1813.60" y2="363.00" stroke="#000" stroke-width="2"/>
<text font-size="25.2" transform="translate(1686.95 395.90) scale(0.9229 1)">SAFit</text>
<text font-size="25.2" transform="translate(1762.15 395.90) scale(0.9173 1)">Rapa</text>
</g>
<g id="hist">
<text font-size="25.2" transform="translate(894.69 584.00) scale(0.8984 1)">EV</text>
<line x1="781.80" y1="596.30" x2="1031.00" y2="596.30" stroke="#000" stroke-width="1.8"/>
<text font-size="25.2" transform="translate(1152.46 584.70) scale(0.9625 1)">Flag-FKBP51</text>
<line x1="1095.30" y1="596.30" x2="1345.00" y2="596.30" stroke="#000" stroke-width="1.8"/>
<text font-size="25.2" transform="translate(800.74 623.00) scale(0.9706 1)">None</text>
<text font-size="25.2" transform="translate(960.54 624.00) scale(0.9710 1)">Doxo</text>
<text font-size="25.2" transform="translate(1116.27 623.50) scale(0.9566 1)">None</text>
<text font-size="25.2" transform="translate(1276.05 625.50) scale(0.9656 1)">Doxo</text>
<text font-size="25.2" transform="translate(1391.07 655.70) scale(0.9582 1)">DMSO</text>
<text font-size="25.2" transform="translate(1392.64 832.70) scale(0.9328 1)">SAFit</text>
<text font-size="25.2" transform="translate(727.30 836.87) rotate(-90) scale(0.9405 1)">counts</text>
<text font-size="25.2" transform="translate(976.79 1011.50) scale(0.9475 1)">Propidium iodide</text>
<rect x="742.20" y="802.60" width="642.50" height="182.70" fill="none" stroke="#333" stroke-width="1.1"/>
<rect x="763.20" y="632.40" width="134.90" height="150.60" fill="#fff" stroke="#1a1a1a" stroke-width="1.0"/>
<path d="M763.2,632.4 V783.0 H898.1" stroke="#1a1a1a" stroke-width="1.6" fill="none"/>
<text font-size="9.2" fill="#2c2c2c" class="s" text-anchor="middle" transform="translate(754.30 783.00) rotate(-90)">0</text>
<text font-size="9.2" fill="#2c2c2c" class="s" text-anchor="middle" transform="translate(754.30 764.17) rotate(-90)">10</text>
<text font-size="9.2" fill="#2c2c2c" class="s" text-anchor="middle" transform="translate(754.30 745.35) rotate(-90)">20</text>
<text font-size="9.2" fill="#2c2c2c" class="s" text-anchor="middle" transform="translate(754.30 726.52) rotate(-90)">30</text>
<text font-size="9.2" fill="#2c2c2c" class="s" text-anchor="middle" transform="translate(754.30 707.70) rotate(-90)">40</text>
<text font-size="9.2" fill="#2c2c2c" class="s" text-anchor="middle" transform="translate(754.30 688.88) rotate(-90)">50</text>
<text font-size="9.2" fill="#2c2c2c" class="s" text-anchor="middle" transform="translate(754.30 670.05) rotate(-90)">60</text>
<text font-size="9.2" fill="#2c2c2c" class="s" text-anchor="middle" transform="translate(754.30 651.22) rotate(-90)">70</text>
<text font-size="9.2" fill="#2c2c2c" class="s" text-anchor="middle" transform="translate(754.30 632.40) rotate(-90)">80</text>
<text x="755.80" y="798.80" font-size="8.6" fill="#2c2c2c" class="s">10<tspan dy="-3.6" font-size="6.71">0</tspan></text>
<text x="789.53" y="798.80" font-size="8.6" fill="#2c2c2c" class="s">10<tspan dy="-3.6" font-size="6.71">1</tspan></text>
<text x="823.25" y="798.80" font-size="8.6" fill="#2c2c2c" class="s">10<tspan dy="-3.6" font-size="6.71">2</tspan></text>
<text x="856.98" y="798.80" font-size="8.6" fill="#2c2c2c" class="s">10<tspan dy="-3.6" font-size="6.71">3</tspan></text>
<text x="890.70" y="798.80" font-size="8.6" fill="#2c2c2c" class="s">10<tspan dy="-3.6" font-size="6.71">4</tspan></text>
<path d="M763.2,783.0h-5M763.2,764.2h-5M763.2,745.4h-5M763.2,726.5h-5M763.2,707.7h-5M763.2,688.9h-5M763.2,670.0h-5M763.2,651.2h-5M763.2,632.4h-5M763.2,783.0v4.6M796.9,783.0v4.6M830.7,783.0v4.6M864.4,783.0v4.6M898.1,783.0v4.6" stroke="#1a1a1a" stroke-width="1.0" fill="none"/>
<path d="M763.2,779.2h-2.6M763.2,775.5h-2.6M763.2,771.7h-2.6M763.2,767.9h-2.6M763.2,760.4h-2.6M763.2,756.6h-2.6M763.2,752.9h-2.6M763.2,749.1h-2.6M763.2,741.6h-2.6M763.2,737.8h-2.6M763.2,734.1h-2.6M763.2,730.3h-2.6M763.2,722.8h-2.6M763.2,719.0h-2.6M763.2,715.2h-2.6M763.2,711.5h-2.6M763.2,703.9h-2.6M763.2,700.2h-2.6M763.2,696.4h-2.6M763.2,692.6h-2.6M763.2,685.1h-2.6M763.2,681.3h-2.6M763.2,677.6h-2.6M763.2,673.8h-2.6M763.2,666.3h-2.6M763.2,662.5h-2.6M763.2,658.8h-2.6M763.2,655.0h-2.6M763.2,647.5h-2.6M763.2,643.7h-2.6M763.2,639.9h-2.6M763.2,636.2h-2.6M773.4,783.0v2.6M779.3,783.0v2.6M783.5,783.0v2.6M786.8,783.0v2.6M789.4,783.0v2.6M791.7,783.0v2.6M793.7,783.0v2.6M795.4,783.0v2.6M807.1,783.0v2.6M813.0,783.0v2.6M817.2,783.0v2.6M820.5,783.0v2.6M823.2,783.0v2.6M825.4,783.0v2.6M827.4,783.0v2.6M829.1,783.0v2.6M840.8,783.0v2.6M846.7,783.0v2.6M851.0,783.0v2.6M854.2,783.0v2.6M856.9,783.0v2.6M859.2,783.0v2.6M861.1,783.0v2.6M862.8,783.0v2.6M874.5,783.0v2.6M880.5,783.0v2.6M884.7,783.0v2.6M887.9,783.0v2.6M890.6,783.0v2.6M892.9,783.0v2.6M894.8,783.0v2.6M896.6,783.0v2.6" stroke="#1a1a1a" stroke-width="0.85" fill="none"/>
<path d="M764.4,782.7 L764.4,781.9 L765.6,781.3 L766.0,780.8 L767.0,781.2 L767.9,780.7 L769.0,781.3 L769.9,781.3 L771.0,780.6 L771.7,779.3 L772.9,780.6 L773.9,781.2 L774.6,780.7 L775.4,781.2 L776.2,781.4 L777.1,780.8 L778.2,780.7 L779.2,780.7 L780.3,780.8 L781.1,779.2 L782.3,779.4 L783.4,781.0 L784.2,781.0 L784.9,780.3 L785.8,779.3 L786.7,779.2 L787.8,781.3 L788.6,779.2 L789.6,779.1 L790.5,781.2 L791.5,780.1 L792.3,781.0 L793.2,778.7 L794.3,780.8 L795.1,780.8 L795.8,779.2 L796.6,779.3 L797.5,779.8 L798.6,779.5 L799.6,779.2 L800.5,778.6 L801.4,774.6 L802.5,777.7 L803.6,777.9 L804.5,774.3 L805.5,778.1 L806.7,777.5 L807.6,775.4 L808.4,777.9 L809.2,779.0 L810.1,779.1 L811.1,779.3 L812.1,776.5 L813.0,778.1 L814.1,779.0 L814.9,775.5 L816.0,778.5 L816.8,777.0 L818.0,778.9 L819.2,776.0 L820.2,778.7 L820.9,779.9 L822.1,779.7 L823.2,780.0 L824.3,779.6 L825.1,780.2 L826.2,779.8 L827.0,777.7 L828.1,776.5 L829.0,774.5 L829.8,779.0 L830.6,777.6 L831.3,778.8 L832.2,777.7 L833.0,778.6 L834.1,776.2 L835.2,777.4 L836.1,778.8 L836.9,779.0 L838.0,776.0 L839.2,778.3 L840.2,775.9 L841.3,777.0 L842.5,778.4 L843.5,776.2 L844.6,776.8 L845.7,777.1 L846.8,778.9 L847.9,776.7 L849.0,779.2 L850.1,777.5 L851.1,779.2 L852.0,779.5 L853.0,780.7 L854.0,778.3 L855.1,779.7 L856.0,779.7 L857.0,780.2 L858.1,780.8 L859.2,780.9 L860.2,780.1 L861.0,779.8 L862.0,780.0 L863.1,780.9 L863.8,780.9 L864.9,781.2 L865.0,780.8 L866.0,774.0 L867.2,761.4 L868.2,730.4 L869.4,728.5 L869.8,705.3 L870.8,705.7 L871.5,714.9 L872.1,738.2 L872.7,751.7 L875.2,750.8 L877.1,744.9 L878.6,742.8 L879.5,747.9 L880.5,761.4 L881.5,773.0 L882.4,779.8 L882.9,782.2 L883.9,782.0 L885.3,782.2 L886.7,782.4 L888.1,782.1 L889.5,782.5 L890.9,782.2 L892.3,782.6 L893.7,782.4 L895.1,782.1 L896.5,782.0 L897.1,782.7 Z" fill="#5c5c5c" stroke="#111" stroke-width="0.9" stroke-linejoin="round"/>
<rect x="763.80" y="755.70" width="2.60" height="27.00" fill="#000"/>
<rect x="763.80" y="728.70" width="1.10" height="54.00" fill="#222"/>
<path d="M763.2,783.0H898.1" stroke="#1a1a1a" stroke-width="1.6" fill="none"/>
<path d="M782.6,726.2v16.4M863.1,726.2v16.4M782.6,734.4H863.1" stroke="#2e2e2e" stroke-width="1.4" fill="none"/>
<text font-size="25.2" transform="translate(804.25 719.20) scale(0.9259 1)">17%</text>
<rect x="924.00" y="632.40" width="132.20" height="150.40" fill="#fff" stroke="#1a1a1a" stroke-width="1.0"/>
<path d="M924.0,632.4 V782.8 H1056.2" stroke="#1a1a1a" stroke-width="1.6" fill="none"/>
<text font-size="9.2" fill="#2c2c2c" class="s" text-anchor="middle" transform="translate(915.10 782.80) rotate(-90)">0</text>
<text font-size="9.2" fill="#2c2c2c" class="s" text-anchor="middle" transform="translate(915.10 764.00) rotate(-90)">10</text>
<text font-size="9.2" fill="#2c2c2c" class="s" text-anchor="middle" transform="translate(915.10 745.20) rotate(-90)">20</text>
<text font-size="9.2" fill="#2c2c2c" class="s" text-anchor="middle" transform="translate(915.10 726.40) rotate(-90)">30</text>
<text font-size="9.2" fill="#2c2c2c" class="s" text-anchor="middle" transform="translate(915.10 707.60) rotate(-90)">40</text>
<text font-size="9.2" fill="#2c2c2c" class="s" text-anchor="middle" transform="translate(915.10 688.80) rotate(-90)">50</text>
<text font-size="9.2" fill="#2c2c2c" class="s" text-anchor="middle" transform="translate(915.10 670.00) rotate(-90)">60</text>
<text font-size="9.2" fill="#2c2c2c" class="s" text-anchor="middle" transform="translate(915.10 651.20) rotate(-90)">70</text>
<text font-size="9.2" fill="#2c2c2c" class="s" text-anchor="middle" transform="translate(915.10 632.40) rotate(-90)">80</text>
<text x="916.60" y="798.60" font-size="8.6" fill="#2c2c2c" class="s">10<tspan dy="-3.6" font-size="6.71">0</tspan></text>
<text x="949.65" y="798.60" font-size="8.6" fill="#2c2c2c" class="s">10<tspan dy="-3.6" font-size="6.71">1</tspan></text>
<text x="982.70" y="798.60" font-size="8.6" fill="#2c2c2c" class="s">10<tspan dy="-3.6" font-size="6.71">2</tspan></text>
<text x="1015.75" y="798.60" font-size="8.6" fill="#2c2c2c" class="s">10<tspan dy="-3.6" font-size="6.71">3</tspan></text>
<text x="1048.80" y="798.60" font-size="8.6" fill="#2c2c2c" class="s">10<tspan dy="-3.6" font-size="6.71">4</tspan></text>
<path d="M924.0,782.8h-5M924.0,764.0h-5M924.0,745.2h-5M924.0,726.4h-5M924.0,707.6h-5M924.0,688.8h-5M924.0,670.0h-5M924.0,651.2h-5M924.0,632.4h-5M924.0,782.8v4.6M957.0,782.8v4.6M990.1,782.8v4.6M1023.2,782.8v4.6M1056.2,782.8v4.6" stroke="#1a1a1a" stroke-width="1.0" fill="none"/>
<path d="M924.0,779.0h-2.6M924.0,775.3h-2.6M924.0,771.5h-2.6M924.0,767.8h-2.6M924.0,760.2h-2.6M924.0,756.5h-2.6M924.0,752.7h-2.6M924.0,749.0h-2.6M924.0,741.4h-2.6M924.0,737.7h-2.6M924.0,733.9h-2.6M924.0,730.2h-2.6M924.0,722.6h-2.6M924.0,718.9h-2.6M924.0,715.1h-2.6M924.0,711.4h-2.6M924.0,703.8h-2.6M924.0,700.1h-2.6M924.0,696.3h-2.6M924.0,692.6h-2.6M924.0,685.0h-2.6M924.0,681.3h-2.6M924.0,677.5h-2.6M924.0,673.8h-2.6M924.0,666.2h-2.6M924.0,662.5h-2.6M924.0,658.7h-2.6M924.0,655.0h-2.6M924.0,647.4h-2.6M924.0,643.7h-2.6M924.0,639.9h-2.6M924.0,636.2h-2.6M933.9,782.8v2.6M939.8,782.8v2.6M943.9,782.8v2.6M947.1,782.8v2.6M949.7,782.8v2.6M951.9,782.8v2.6M953.8,782.8v2.6M955.5,782.8v2.6M967.0,782.8v2.6M972.8,782.8v2.6M976.9,782.8v2.6M980.2,782.8v2.6M982.8,782.8v2.6M985.0,782.8v2.6M986.9,782.8v2.6M988.6,782.8v2.6M1000.0,782.8v2.6M1005.9,782.8v2.6M1010.0,782.8v2.6M1013.2,782.8v2.6M1015.8,782.8v2.6M1018.0,782.8v2.6M1019.9,782.8v2.6M1021.6,782.8v2.6M1033.1,782.8v2.6M1038.9,782.8v2.6M1043.0,782.8v2.6M1046.3,782.8v2.6M1048.9,782.8v2.6M1051.1,782.8v2.6M1053.0,782.8v2.6M1054.7,782.8v2.6" stroke="#1a1a1a" stroke-width="0.85" fill="none"/>
<path d="M925.2,782.5 L925.2,781.6 L926.5,781.4 L927.5,782.1 L927.6,781.3 L928.7,780.8 L929.7,780.9 L930.7,781.2 L931.7,781.1 L932.8,781.2 L933.9,781.1 L935.0,780.7 L935.9,779.0 L936.6,781.0 L937.7,780.2 L938.5,778.5 L939.7,780.7 L940.6,780.6 L941.4,779.7 L942.2,779.7 L942.9,780.6 L944.0,780.4 L944.9,780.2 L945.9,780.6 L946.6,780.3 L947.8,778.6 L948.8,780.0 L949.7,778.8 L950.7,779.7 L951.5,778.7 L952.5,775.9 L953.5,779.0 L954.6,778.1 L955.5,779.1 L956.4,779.0 L957.5,780.0 L958.5,780.2 L959.5,780.3 L960.4,779.1 L961.4,779.3 L962.3,778.3 L963.2,776.8 L964.4,775.3 L965.5,775.5 L966.7,772.9 L967.5,769.4 L968.6,774.7 L969.5,768.6 L970.3,772.6 L971.1,774.1 L972.1,765.1 L973.3,769.7 L974.0,771.1 L975.1,765.7 L976.1,771.7 L977.1,769.5 L978.1,771.3 L979.2,764.6 L980.0,770.8 L981.2,771.0 L982.3,769.4 L983.4,768.3 L984.2,772.1 L985.0,769.3 L986.1,774.0 L987.2,772.3 L988.0,772.6 L989.2,772.2 L990.2,769.4 L991.4,771.7 L992.3,773.1 L993.5,772.4 L994.5,775.2 L995.3,773.5 L996.3,777.5 L997.4,772.7 L998.5,773.3 L999.6,776.3 L1000.7,777.3 L1001.5,777.7 L1002.3,775.1 L1003.4,777.7 L1004.4,779.3 L1005.4,778.0 L1006.2,779.5 L1007.2,779.3 L1008.2,779.4 L1008.9,778.6 L1010.0,776.7 L1011.0,775.0 L1011.9,779.0 L1012.8,777.6 L1013.6,776.8 L1014.5,778.3 L1015.4,775.0 L1016.1,778.0 L1016.9,779.1 L1017.8,779.7 L1018.2,778.9 L1020.7,775.4 L1022.2,771.3 L1023.2,764.2 L1024.1,745.9 L1024.8,716.4 L1025.8,714.4 L1026.3,697.1 L1027.5,694.1 L1028.0,714.4 L1028.8,715.4 L1029.3,745.9 L1029.8,759.1 L1030.6,747.9 L1031.9,744.9 L1032.9,740.3 L1034.2,744.9 L1035.2,745.9 L1035.9,756.1 L1037.5,765.2 L1038.5,772.3 L1040.0,773.4 L1041.0,780.5 L1042.0,782.0 L1043.0,782.1 L1044.4,782.0 L1045.8,782.4 L1047.2,782.2 L1048.6,782.1 L1050.0,781.9 L1051.4,782.3 L1052.8,782.2 L1054.2,781.9 L1055.2,782.5 Z" fill="#5c5c5c" stroke="#111" stroke-width="0.9" stroke-linejoin="round"/>
<rect x="924.60" y="733.50" width="2.60" height="49.00" fill="#000"/>
<rect x="924.60" y="684.50" width="1.10" height="98.00" fill="#222"/>
<path d="M924.0,782.8H1056.2" stroke="#1a1a1a" stroke-width="1.6" fill="none"/>
<path d="M942.9,725.2v16.4M1022.2,725.2v16.4M942.9,733.4H1022.2" stroke="#2e2e2e" stroke-width="1.4" fill="none"/>
<text font-size="25.2" transform="translate(958.25 718.20) scale(0.9421 1)">36%</text>
<rect x="1082.40" y="632.40" width="133.70" height="151.50" fill="#fff" stroke="#1a1a1a" stroke-width="1.0"/>
<path d="M1082.4,632.4 V783.9 H1216.1" stroke="#1a1a1a" stroke-width="1.6" fill="none"/>
<text font-size="9.2" fill="#2c2c2c" class="s" text-anchor="middle" transform="translate(1073.50 783.90) rotate(-90)">0</text>
<text font-size="9.2" fill="#2c2c2c" class="s" text-anchor="middle" transform="translate(1073.50 764.96) rotate(-90)">10</text>
<text font-size="9.2" fill="#2c2c2c" class="s" text-anchor="middle" transform="translate(1073.50 746.02) rotate(-90)">20</text>
<text font-size="9.2" fill="#2c2c2c" class="s" text-anchor="middle" transform="translate(1073.50 727.09) rotate(-90)">30</text>
<text font-size="9.2" fill="#2c2c2c" class="s" text-anchor="middle" transform="translate(1073.50 708.15) rotate(-90)">40</text>
<text font-size="9.2" fill="#2c2c2c" class="s" text-anchor="middle" transform="translate(1073.50 689.21) rotate(-90)">50</text>
<text font-size="9.2" fill="#2c2c2c" class="s" text-anchor="middle" transform="translate(1073.50 670.27) rotate(-90)">60</text>
<text font-size="9.2" fill="#2c2c2c" class="s" text-anchor="middle" transform="translate(1073.50 651.34) rotate(-90)">70</text>
<text font-size="9.2" fill="#2c2c2c" class="s" text-anchor="middle" transform="translate(1073.50 632.40) rotate(-90)">80</text>
<text x="1075.00" y="799.70" font-size="8.6" fill="#2c2c2c" class="s">10<tspan dy="-3.6" font-size="6.71">0</tspan></text>
<text x="1108.42" y="799.70" font-size="8.6" fill="#2c2c2c" class="s">10<tspan dy="-3.6" font-size="6.71">1</tspan></text>
<text x="1141.85" y="799.70" font-size="8.6" fill="#2c2c2c" class="s">10<tspan dy="-3.6" font-size="6.71">2</tspan></text>
<text x="1175.27" y="799.70" font-size="8.6" fill="#2c2c2c" class="s">10<tspan dy="-3.6" font-size="6.71">3</tspan></text>
<text x="1208.70" y="799.70" font-size="8.6" fill="#2c2c2c" class="s">10<tspan dy="-3.6" font-size="6.71">4</tspan></text>
<path d="M1082.4,783.9h-5M1082.4,765.0h-5M1082.4,746.0h-5M1082.4,727.1h-5M1082.4,708.1h-5M1082.4,689.2h-5M1082.4,670.3h-5M1082.4,651.3h-5M1082.4,632.4h-5M1082.4,783.9v4.6M1115.8,783.9v4.6M1149.2,783.9v4.6M1182.7,783.9v4.6M1216.1,783.9v4.6" stroke="#1a1a1a" stroke-width="1.0" fill="none"/>
<path d="M1082.4,780.1h-2.6M1082.4,776.3h-2.6M1082.4,772.5h-2.6M1082.4,768.8h-2.6M1082.4,761.2h-2.6M1082.4,757.4h-2.6M1082.4,753.6h-2.6M1082.4,749.8h-2.6M1082.4,742.2h-2.6M1082.4,738.4h-2.6M1082.4,734.7h-2.6M1082.4,730.9h-2.6M1082.4,723.3h-2.6M1082.4,719.5h-2.6M1082.4,715.7h-2.6M1082.4,711.9h-2.6M1082.4,704.4h-2.6M1082.4,700.6h-2.6M1082.4,696.8h-2.6M1082.4,693.0h-2.6M1082.4,685.4h-2.6M1082.4,681.6h-2.6M1082.4,677.9h-2.6M1082.4,674.1h-2.6M1082.4,666.5h-2.6M1082.4,662.7h-2.6M1082.4,658.9h-2.6M1082.4,655.1h-2.6M1082.4,647.5h-2.6M1082.4,643.8h-2.6M1082.4,640.0h-2.6M1082.4,636.2h-2.6M1092.5,783.9v2.6M1098.3,783.9v2.6M1102.5,783.9v2.6M1105.8,783.9v2.6M1108.4,783.9v2.6M1110.6,783.9v2.6M1112.6,783.9v2.6M1114.3,783.9v2.6M1125.9,783.9v2.6M1131.8,783.9v2.6M1135.9,783.9v2.6M1139.2,783.9v2.6M1141.8,783.9v2.6M1144.1,783.9v2.6M1146.0,783.9v2.6M1147.7,783.9v2.6M1159.3,783.9v2.6M1165.2,783.9v2.6M1169.4,783.9v2.6M1172.6,783.9v2.6M1175.3,783.9v2.6M1177.5,783.9v2.6M1179.4,783.9v2.6M1181.1,783.9v2.6M1192.7,783.9v2.6M1198.6,783.9v2.6M1202.8,783.9v2.6M1206.0,783.9v2.6M1208.7,783.9v2.6M1210.9,783.9v2.6M1212.9,783.9v2.6M1214.6,783.9v2.6" stroke="#1a1a1a" stroke-width="0.85" fill="none"/>
<path d="M1083.6,783.6 L1083.6,783.0 L1084.9,782.5 L1086.0,782.5 L1086.8,782.5 L1087.6,781.9 L1088.4,782.1 L1089.2,782.3 L1090.1,780.9 L1091.1,782.6 L1092.0,782.4 L1093.1,780.8 L1094.2,780.7 L1095.3,780.6 L1096.4,782.2 L1097.5,781.9 L1098.6,781.8 L1099.5,782.0 L1100.4,782.0 L1101.2,780.5 L1102.3,780.3 L1103.3,781.7 L1104.4,782.2 L1105.4,781.8 L1106.2,782.0 L1107.2,782.0 L1108.1,781.5 L1109.0,782.1 L1109.9,781.9 L1110.8,781.9 L1111.6,782.0 L1112.7,779.6 L1113.6,780.7 L1114.7,781.8 L1115.5,779.4 L1116.6,780.4 L1117.4,780.8 L1118.5,778.9 L1119.6,781.3 L1120.8,781.0 L1121.8,781.5 L1123.0,780.8 L1124.1,781.6 L1125.1,781.1 L1126.1,781.5 L1127.1,781.0 L1128.0,781.0 L1129.0,780.7 L1129.8,780.6 L1130.9,778.6 L1131.8,780.0 L1132.7,778.5 L1133.5,779.5 L1134.7,778.8 L1135.5,778.4 L1136.5,779.4 L1137.5,778.6 L1138.6,780.1 L1139.5,778.7 L1140.6,779.0 L1141.6,778.8 L1142.4,780.8 L1143.4,777.6 L1144.5,780.4 L1145.5,778.1 L1146.3,779.8 L1147.2,780.7 L1148.0,780.9 L1148.9,781.3 L1149.8,781.3 L1150.9,780.3 L1151.6,780.0 L1152.4,780.5 L1153.4,780.8 L1154.2,780.6 L1155.0,778.8 L1155.7,778.9 L1156.5,780.8 L1157.4,781.4 L1158.2,780.7 L1159.1,778.7 L1160.3,781.4 L1161.3,781.2 L1162.4,780.8 L1163.5,780.4 L1164.3,781.5 L1165.1,779.0 L1165.9,780.7 L1166.8,781.0 L1167.9,781.4 L1168.9,780.6 L1170.1,781.0 L1171.3,781.2 L1172.3,781.0 L1173.4,779.5 L1174.1,781.6 L1175.1,779.5 L1176.1,781.2 L1177.3,781.2 L1178.0,781.6 L1178.7,780.3 L1179.5,780.2 L1180.6,778.6 L1181.7,781.0 L1182.7,779.8 L1183.8,781.9 L1184.2,781.8 L1185.4,778.7 L1186.1,765.5 L1187.3,746.2 L1188.3,715.7 L1189.1,693.9 L1190.3,696.4 L1191.3,705.6 L1191.8,734.0 L1192.9,736.0 L1193.4,754.3 L1194.9,752.3 L1196.6,751.3 L1197.9,756.4 L1199.0,763.5 L1200.5,760.9 L1201.3,772.6 L1202.0,782.8 L1203.0,783.5 L1204.4,783.4 L1205.8,782.9 L1207.2,783.3 L1208.6,783.4 L1210.0,783.0 L1211.4,783.3 L1212.8,783.6 L1214.2,783.6 L1215.1,783.6 Z" fill="#5c5c5c" stroke="#111" stroke-width="0.9" stroke-linejoin="round"/>
<rect x="1083.00" y="775.60" width="2.60" height="8.00" fill="#000"/>
<rect x="1083.00" y="767.60" width="1.10" height="16.00" fill="#222"/>
<path d="M1082.4,783.9H1216.1" stroke="#1a1a1a" stroke-width="1.6" fill="none"/>
<path d="M1101.6,726.8v16.4M1181.4,726.8v16.4M1101.6,735.0H1181.4" stroke="#2e2e2e" stroke-width="1.4" fill="none"/>
<text font-size="25.2" transform="translate(1128.01 721.10) scale(0.9425 1)">7%</text>
<rect x="1239.30" y="632.40" width="133.60" height="151.50" fill="#fff" stroke="#1a1a1a" stroke-width="1.0"/>
<path d="M1239.3,632.4 V783.9 H1372.9" stroke="#1a1a1a" stroke-width="1.6" fill="none"/>
<text font-size="9.2" fill="#2c2c2c" class="s" text-anchor="middle" transform="translate(1230.40 783.90) rotate(-90)">0</text>
<text font-size="9.2" fill="#2c2c2c" class="s" text-anchor="middle" transform="translate(1230.40 764.96) rotate(-90)">10</text>
<text font-size="9.2" fill="#2c2c2c" class="s" text-anchor="middle" transform="translate(1230.40 746.02) rotate(-90)">20</text>
<text font-size="9.2" fill="#2c2c2c" class="s" text-anchor="middle" transform="translate(1230.40 727.09) rotate(-90)">30</text>
<text font-size="9.2" fill="#2c2c2c" class="s" text-anchor="middle" transform="translate(1230.40 708.15) rotate(-90)">40</text>
<text font-size="9.2" fill="#2c2c2c" class="s" text-anchor="middle" transform="translate(1230.40 689.21) rotate(-90)">50</text>
<text font-size="9.2" fill="#2c2c2c" class="s" text-anchor="middle" transform="translate(1230.40 670.27) rotate(-90)">60</text>
<text font-size="9.2" fill="#2c2c2c" class="s" text-anchor="middle" transform="translate(1230.40 651.34) rotate(-90)">70</text>
<text font-size="9.2" fill="#2c2c2c" class="s" text-anchor="middle" transform="translate(1230.40 632.40) rotate(-90)">80</text>
<text x="1231.90" y="799.70" font-size="8.6" fill="#2c2c2c" class="s">10<tspan dy="-3.6" font-size="6.71">0</tspan></text>
<text x="1265.30" y="799.70" font-size="8.6" fill="#2c2c2c" class="s">10<tspan dy="-3.6" font-size="6.71">1</tspan></text>
<text x="1298.70" y="799.70" font-size="8.6" fill="#2c2c2c" class="s">10<tspan dy="-3.6" font-size="6.71">2</tspan></text>
<text x="1332.10" y="799.70" font-size="8.6" fill="#2c2c2c" class="s">10<tspan dy="-3.6" font-size="6.71">3</tspan></text>
<text x="1365.50" y="799.70" font-size="8.6" fill="#2c2c2c" class="s">10<tspan dy="-3.6" font-size="6.71">4</tspan></text>
<path d="M1239.3,783.9h-5M1239.3,765.0h-5M1239.3,746.0h-5M1239.3,727.1h-5M1239.3,708.1h-5M1239.3,689.2h-5M1239.3,670.3h-5M1239.3,651.3h-5M1239.3,632.4h-5M1239.3,783.9v4.6M1272.7,783.9v4.6M1306.1,783.9v4.6M1339.5,783.9v4.6M1372.9,783.9v4.6" stroke="#1a1a1a" stroke-width="1.0" fill="none"/>
<path d="M1239.3,780.1h-2.6M1239.3,776.3h-2.6M1239.3,772.5h-2.6M1239.3,768.8h-2.6M1239.3,761.2h-2.6M1239.3,757.4h-2.6M1239.3,753.6h-2.6M1239.3,749.8h-2.6M1239.3,742.2h-2.6M1239.3,738.4h-2.6M1239.3,734.7h-2.6M1239.3,730.9h-2.6M1239.3,723.3h-2.6M1239.3,719.5h-2.6M1239.3,715.7h-2.6M1239.3,711.9h-2.6M1239.3,704.4h-2.6M1239.3,700.6h-2.6M1239.3,696.8h-2.6M1239.3,693.0h-2.6M1239.3,685.4h-2.6M1239.3,681.6h-2.6M1239.3,677.9h-2.6M1239.3,674.1h-2.6M1239.3,666.5h-2.6M1239.3,662.7h-2.6M1239.3,658.9h-2.6M1239.3,655.1h-2.6M1239.3,647.5h-2.6M1239.3,643.8h-2.6M1239.3,640.0h-2.6M1239.3,636.2h-2.6M1249.4,783.9v2.6M1255.2,783.9v2.6M1259.4,783.9v2.6M1262.6,783.9v2.6M1265.3,783.9v2.6M1267.5,783.9v2.6M1269.5,783.9v2.6M1271.2,783.9v2.6M1282.8,783.9v2.6M1288.6,783.9v2.6M1292.8,783.9v2.6M1296.0,783.9v2.6M1298.7,783.9v2.6M1300.9,783.9v2.6M1302.9,783.9v2.6M1304.6,783.9v2.6M1316.2,783.9v2.6M1322.0,783.9v2.6M1326.2,783.9v2.6M1329.4,783.9v2.6M1332.1,783.9v2.6M1334.3,783.9v2.6M1336.3,783.9v2.6M1338.0,783.9v2.6M1349.6,783.9v2.6M1355.4,783.9v2.6M1359.6,783.9v2.6M1362.8,783.9v2.6M1365.5,783.9v2.6M1367.7,783.9v2.6M1369.7,783.9v2.6M1371.4,783.9v2.6" stroke="#1a1a1a" stroke-width="0.85" fill="none"/>
<path d="M1240.5,783.6 L1240.5,783.1 L1241.8,782.5 L1243.0,782.4 L1243.8,781.9 L1244.9,782.3 L1245.9,782.2 L1247.0,782.4 L1247.8,780.6 L1248.7,782.2 L1249.8,781.7 L1250.6,781.8 L1251.6,782.2 L1252.6,782.2 L1253.5,782.2 L1254.3,780.1 L1255.2,780.1 L1256.1,781.4 L1257.2,781.2 L1258.0,781.3 L1259.0,781.9 L1259.8,779.9 L1260.7,781.8 L1261.6,781.7 L1262.7,781.2 L1263.5,779.7 L1264.2,781.4 L1265.0,780.5 L1265.7,780.8 L1266.5,780.8 L1267.5,780.6 L1268.4,780.6 L1269.3,780.3 L1270.1,780.4 L1270.9,778.5 L1272.1,781.1 L1272.9,779.5 L1273.8,781.0 L1274.9,777.6 L1275.8,779.9 L1276.8,777.1 L1277.6,779.5 L1278.4,778.1 L1279.3,779.0 L1280.2,779.5 L1281.1,774.3 L1282.1,777.8 L1283.3,777.0 L1284.1,778.3 L1284.9,777.2 L1285.7,772.3 L1286.5,776.4 L1287.5,771.2 L1288.4,772.7 L1289.2,773.6 L1290.2,769.8 L1291.3,773.6 L1292.4,774.7 L1293.3,770.1 L1294.3,772.4 L1295.2,770.8 L1296.2,776.1 L1297.3,775.3 L1298.2,776.8 L1299.0,777.4 L1300.0,778.1 L1300.8,776.9 L1301.8,777.6 L1302.9,778.5 L1303.8,778.0 L1304.5,779.0 L1305.3,777.4 L1306.1,777.9 L1306.9,778.2 L1307.9,779.5 L1309.1,778.9 L1310.1,780.7 L1311.0,780.2 L1311.9,777.7 L1313.0,780.9 L1314.1,778.0 L1315.1,781.0 L1316.2,780.4 L1317.4,778.6 L1318.5,778.6 L1319.2,779.9 L1320.1,781.2 L1321.0,780.0 L1321.7,780.2 L1322.8,779.9 L1323.7,780.3 L1324.9,780.2 L1326.0,778.9 L1326.7,776.9 L1327.5,776.7 L1328.6,777.0 L1329.8,779.7 L1330.7,780.0 L1331.9,781.1 L1332.6,778.1 L1333.7,779.9 L1334.9,780.6 L1336.0,781.1 L1336.2,780.8 L1337.7,776.7 L1339.2,769.6 L1340.2,758.4 L1341.3,743.2 L1342.5,737.1 L1343.8,740.6 L1344.8,747.2 L1345.8,751.3 L1346.8,758.4 L1347.9,750.3 L1348.9,746.2 L1350.2,747.7 L1351.4,752.3 L1352.4,759.4 L1354.0,766.5 L1355.5,773.6 L1357.0,768.6 L1357.5,782.8 L1358.5,783.5 L1359.9,783.3 L1361.3,783.2 L1362.7,783.0 L1364.1,783.3 L1365.5,783.1 L1366.9,782.9 L1368.3,783.3 L1369.7,783.5 L1371.1,783.6 L1371.9,783.6 Z" fill="#5c5c5c" stroke="#111" stroke-width="0.9" stroke-linejoin="round"/>
<rect x="1239.90" y="774.60" width="2.60" height="9.00" fill="#000"/>
<rect x="1239.90" y="765.60" width="1.10" height="18.00" fill="#222"/>
<path d="M1239.3,783.9H1372.9" stroke="#1a1a1a" stroke-width="1.6" fill="none"/>
<path d="M1258.1,726.8v16.4M1338.2,726.8v16.4M1258.1,735.0H1338.2" stroke="#2e2e2e" stroke-width="1.4" fill="none"/>
<text font-size="25.2" transform="translate(1274.30 721.10) scale(0.9491 1)">27%</text>
<rect x="764.30" y="810.60" width="133.70" height="146.40" fill="#fff" stroke="#1a1a1a" stroke-width="1.0"/>
<path d="M764.3,810.6 V957.0 H898.0" stroke="#1a1a1a" stroke-width="1.6" fill="none"/>
<text font-size="9.2" fill="#2c2c2c" class="s" text-anchor="middle" transform="translate(755.40 957.00) rotate(-90)">0</text>
<text font-size="9.2" fill="#2c2c2c" class="s" text-anchor="middle" transform="translate(755.40 938.70) rotate(-90)">10</text>
<text font-size="9.2" fill="#2c2c2c" class="s" text-anchor="middle" transform="translate(755.40 920.40) rotate(-90)">20</text>
<text font-size="9.2" fill="#2c2c2c" class="s" text-anchor="middle" transform="translate(755.40 902.10) rotate(-90)">30</text>
<text font-size="9.2" fill="#2c2c2c" class="s" text-anchor="middle" transform="translate(755.40 883.80) rotate(-90)">40</text>
<text font-size="9.2" fill="#2c2c2c" class="s" text-anchor="middle" transform="translate(755.40 865.50) rotate(-90)">50</text>
<text font-size="9.2" fill="#2c2c2c" class="s" text-anchor="middle" transform="translate(755.40 847.20) rotate(-90)">60</text>
<text font-size="9.2" fill="#2c2c2c" class="s" text-anchor="middle" transform="translate(755.40 828.90) rotate(-90)">70</text>
<text font-size="9.2" fill="#2c2c2c" class="s" text-anchor="middle" transform="translate(755.40 810.60) rotate(-90)">80</text>
<text x="756.90" y="972.80" font-size="8.6" fill="#2c2c2c" class="s">10<tspan dy="-3.6" font-size="6.71">0</tspan></text>
<text x="790.32" y="972.80" font-size="8.6" fill="#2c2c2c" class="s">10<tspan dy="-3.6" font-size="6.71">1</tspan></text>
<text x="823.75" y="972.80" font-size="8.6" fill="#2c2c2c" class="s">10<tspan dy="-3.6" font-size="6.71">2</tspan></text>
<text x="857.18" y="972.80" font-size="8.6" fill="#2c2c2c" class="s">10<tspan dy="-3.6" font-size="6.71">3</tspan></text>
<text x="890.60" y="972.80" font-size="8.6" fill="#2c2c2c" class="s">10<tspan dy="-3.6" font-size="6.71">4</tspan></text>
<path d="M764.3,957.0h-5M764.3,938.7h-5M764.3,920.4h-5M764.3,902.1h-5M764.3,883.8h-5M764.3,865.5h-5M764.3,847.2h-5M764.3,828.9h-5M764.3,810.6h-5M764.3,957.0v4.6M797.7,957.0v4.6M831.1,957.0v4.6M864.6,957.0v4.6M898.0,957.0v4.6" stroke="#1a1a1a" stroke-width="1.0" fill="none"/>
<path d="M764.3,953.3h-2.6M764.3,949.7h-2.6M764.3,946.0h-2.6M764.3,942.4h-2.6M764.3,935.0h-2.6M764.3,931.4h-2.6M764.3,927.7h-2.6M764.3,924.1h-2.6M764.3,916.7h-2.6M764.3,913.1h-2.6M764.3,909.4h-2.6M764.3,905.8h-2.6M764.3,898.4h-2.6M764.3,894.8h-2.6M764.3,891.1h-2.6M764.3,887.5h-2.6M764.3,880.1h-2.6M764.3,876.5h-2.6M764.3,872.8h-2.6M764.3,869.2h-2.6M764.3,861.8h-2.6M764.3,858.2h-2.6M764.3,854.5h-2.6M764.3,850.9h-2.6M764.3,843.5h-2.6M764.3,839.9h-2.6M764.3,836.2h-2.6M764.3,832.6h-2.6M764.3,825.2h-2.6M764.3,821.6h-2.6M764.3,817.9h-2.6M764.3,814.3h-2.6M774.4,957.0v2.6M780.2,957.0v2.6M784.4,957.0v2.6M787.7,957.0v2.6M790.3,957.0v2.6M792.5,957.0v2.6M794.5,957.0v2.6M796.2,957.0v2.6M807.8,957.0v2.6M813.7,957.0v2.6M817.8,957.0v2.6M821.1,957.0v2.6M823.7,957.0v2.6M826.0,957.0v2.6M827.9,957.0v2.6M829.6,957.0v2.6M841.2,957.0v2.6M847.1,957.0v2.6M851.3,957.0v2.6M854.5,957.0v2.6M857.2,957.0v2.6M859.4,957.0v2.6M861.3,957.0v2.6M863.0,957.0v2.6M874.6,957.0v2.6M880.5,957.0v2.6M884.7,957.0v2.6M887.9,957.0v2.6M890.6,957.0v2.6M892.8,957.0v2.6M894.8,957.0v2.6M896.5,957.0v2.6" stroke="#1a1a1a" stroke-width="0.85" fill="none"/>
<path d="M765.5,956.7 L765.5,955.3 L766.1,954.9 L766.9,953.7 L767.6,953.7 L768.6,953.7 L769.8,955.3 L770.7,954.7 L771.5,955.2 L772.4,953.5 L773.5,954.5 L774.3,953.4 L775.3,955.1 L776.2,954.8 L776.9,954.6 L777.8,954.6 L779.0,954.4 L779.9,953.2 L781.1,954.6 L782.2,955.2 L783.0,955.0 L784.2,954.2 L785.2,954.8 L786.2,953.1 L786.9,955.1 L787.7,954.6 L788.8,954.5 L789.7,954.6 L790.5,953.1 L791.3,955.0 L792.2,953.2 L793.1,952.6 L793.9,954.0 L794.7,951.8 L795.8,953.2 L796.5,952.8 L797.4,950.5 L798.6,951.2 L799.4,953.3 L800.6,950.0 L801.3,952.5 L802.3,950.7 L803.0,954.2 L804.1,953.4 L805.1,953.4 L806.1,953.4 L806.9,954.5 L807.6,953.9 L808.6,953.6 L809.5,952.9 L810.5,952.8 L811.4,951.1 L812.5,950.2 L813.6,953.4 L814.7,951.8 L815.6,950.8 L816.3,951.5 L817.5,950.7 L818.7,949.2 L819.6,950.9 L820.6,949.3 L821.4,952.1 L822.2,947.9 L823.3,952.1 L824.4,950.2 L825.3,948.2 L826.0,952.4 L826.9,950.2 L827.9,951.4 L829.0,952.0 L830.1,953.5 L831.2,953.2 L832.2,950.6 L833.3,952.5 L834.2,951.9 L835.1,953.2 L836.1,952.1 L836.9,951.9 L837.8,952.9 L838.8,950.6 L839.7,949.2 L840.9,950.5 L841.8,951.8 L842.6,951.6 L843.8,952.4 L844.9,950.1 L846.0,952.6 L847.1,952.4 L848.1,950.5 L849.2,951.6 L850.3,952.8 L851.1,950.1 L851.8,952.5 L852.7,950.5 L853.6,952.5 L854.5,952.9 L855.5,953.0 L856.5,953.2 L857.4,951.3 L858.6,953.9 L859.8,954.5 L860.6,951.8 L861.4,953.3 L862.6,953.6 L863.5,954.8 L864.5,954.1 L865.1,953.2 L867.0,948.1 L868.2,923.0 L868.9,897.8 L869.5,865.1 L870.8,863.9 L871.1,845.0 L872.0,860.1 L872.6,863.9 L873.3,895.3 L874.5,905.4 L875.8,916.7 L877.0,907.9 L878.7,907.3 L879.9,910.4 L880.8,925.5 L882.1,943.1 L883.3,953.2 L884.0,956.2 L885.0,956.4 L886.4,956.1 L887.8,956.4 L889.2,956.2 L890.6,956.2 L892.0,956.6 L893.4,956.0 L894.8,956.4 L896.2,956.4 L897.0,956.7 Z" fill="#5c5c5c" stroke="#111" stroke-width="0.9" stroke-linejoin="round"/>
<rect x="764.90" y="923.70" width="2.60" height="33.00" fill="#000"/>
<rect x="764.90" y="890.70" width="1.10" height="66.00" fill="#222"/>
<path d="M764.3,957.0H898.0" stroke="#1a1a1a" stroke-width="1.6" fill="none"/>
<path d="M783.3,901.2v16.4M863.4,901.2v16.4M783.3,909.4H863.4" stroke="#2e2e2e" stroke-width="1.4" fill="none"/>
<text font-size="25.2" transform="translate(804.22 895.10) scale(0.9427 1)">12%</text>
<rect x="922.40" y="810.60" width="134.10" height="146.80" fill="#fff" stroke="#1a1a1a" stroke-width="1.0"/>
<path d="M922.4,810.6 V957.4 H1056.5" stroke="#1a1a1a" stroke-width="1.6" fill="none"/>
<text font-size="9.2" fill="#2c2c2c" class="s" text-anchor="middle" transform="translate(913.50 957.40) rotate(-90)">0</text>
<text font-size="9.2" fill="#2c2c2c" class="s" text-anchor="middle" transform="translate(913.50 939.05) rotate(-90)">10</text>
<text font-size="9.2" fill="#2c2c2c" class="s" text-anchor="middle" transform="translate(913.50 920.70) rotate(-90)">20</text>
<text font-size="9.2" fill="#2c2c2c" class="s" text-anchor="middle" transform="translate(913.50 902.35) rotate(-90)">30</text>
<text font-size="9.2" fill="#2c2c2c" class="s" text-anchor="middle" transform="translate(913.50 884.00) rotate(-90)">40</text>
<text font-size="9.2" fill="#2c2c2c" class="s" text-anchor="middle" transform="translate(913.50 865.65) rotate(-90)">50</text>
<text font-size="9.2" fill="#2c2c2c" class="s" text-anchor="middle" transform="translate(913.50 847.30) rotate(-90)">60</text>
<text font-size="9.2" fill="#2c2c2c" class="s" text-anchor="middle" transform="translate(913.50 828.95) rotate(-90)">70</text>
<text font-size="9.2" fill="#2c2c2c" class="s" text-anchor="middle" transform="translate(913.50 810.60) rotate(-90)">80</text>
<text x="915.00" y="973.20" font-size="8.6" fill="#2c2c2c" class="s">10<tspan dy="-3.6" font-size="6.71">0</tspan></text>
<text x="948.52" y="973.20" font-size="8.6" fill="#2c2c2c" class="s">10<tspan dy="-3.6" font-size="6.71">1</tspan></text>
<text x="982.05" y="973.20" font-size="8.6" fill="#2c2c2c" class="s">10<tspan dy="-3.6" font-size="6.71">2</tspan></text>
<text x="1015.58" y="973.20" font-size="8.6" fill="#2c2c2c" class="s">10<tspan dy="-3.6" font-size="6.71">3</tspan></text>
<text x="1049.10" y="973.20" font-size="8.6" fill="#2c2c2c" class="s">10<tspan dy="-3.6" font-size="6.71">4</tspan></text>
<path d="M922.4,957.4h-5M922.4,939.0h-5M922.4,920.7h-5M922.4,902.4h-5M922.4,884.0h-5M922.4,865.6h-5M922.4,847.3h-5M922.4,829.0h-5M922.4,810.6h-5M922.4,957.4v4.6M955.9,957.4v4.6M989.5,957.4v4.6M1023.0,957.4v4.6M1056.5,957.4v4.6" stroke="#1a1a1a" stroke-width="1.0" fill="none"/>
<path d="M922.4,953.7h-2.6M922.4,950.1h-2.6M922.4,946.4h-2.6M922.4,942.7h-2.6M922.4,935.4h-2.6M922.4,931.7h-2.6M922.4,928.0h-2.6M922.4,924.4h-2.6M922.4,917.0h-2.6M922.4,913.4h-2.6M922.4,909.7h-2.6M922.4,906.0h-2.6M922.4,898.7h-2.6M922.4,895.0h-2.6M922.4,891.3h-2.6M922.4,887.7h-2.6M922.4,880.3h-2.6M922.4,876.7h-2.6M922.4,873.0h-2.6M922.4,869.3h-2.6M922.4,862.0h-2.6M922.4,858.3h-2.6M922.4,854.6h-2.6M922.4,851.0h-2.6M922.4,843.6h-2.6M922.4,840.0h-2.6M922.4,836.3h-2.6M922.4,832.6h-2.6M922.4,825.3h-2.6M922.4,821.6h-2.6M922.4,817.9h-2.6M922.4,814.3h-2.6M932.5,957.4v2.6M938.4,957.4v2.6M942.6,957.4v2.6M945.8,957.4v2.6M948.5,957.4v2.6M950.7,957.4v2.6M952.7,957.4v2.6M954.4,957.4v2.6M966.0,957.4v2.6M971.9,957.4v2.6M976.1,957.4v2.6M979.4,957.4v2.6M982.0,957.4v2.6M984.3,957.4v2.6M986.2,957.4v2.6M987.9,957.4v2.6M999.5,957.4v2.6M1005.4,957.4v2.6M1009.6,957.4v2.6M1012.9,957.4v2.6M1015.5,957.4v2.6M1017.8,957.4v2.6M1019.7,957.4v2.6M1021.4,957.4v2.6M1033.1,957.4v2.6M1039.0,957.4v2.6M1043.2,957.4v2.6M1046.4,957.4v2.6M1049.1,957.4v2.6M1051.3,957.4v2.6M1053.3,957.4v2.6M1055.0,957.4v2.6" stroke="#1a1a1a" stroke-width="0.85" fill="none"/>
<path d="M923.6,957.1 L923.6,955.7 L924.1,955.0 L925.0,954.9 L926.1,955.1 L927.1,955.4 L927.9,954.8 L928.7,954.1 L929.5,953.9 L930.7,954.8 L931.9,952.4 L932.9,954.6 L933.8,952.7 L934.7,953.5 L935.5,953.1 L936.6,952.4 L937.5,950.9 L938.7,952.6 L939.4,949.6 L940.6,951.6 L941.5,953.6 L942.3,953.7 L943.2,954.5 L944.3,953.4 L945.0,952.5 L945.9,951.8 L946.9,952.4 L947.8,952.3 L948.7,953.8 L949.5,952.7 L950.4,951.8 L951.4,950.2 L952.3,951.2 L953.2,946.8 L954.3,948.5 L955.4,950.4 L956.2,951.0 L957.0,951.3 L958.0,944.9 L958.7,946.9 L959.9,946.1 L960.7,946.7 L961.5,949.4 L962.2,947.0 L963.4,949.5 L964.1,946.8 L964.9,945.5 L965.9,944.4 L966.6,947.6 L967.4,940.8 L968.6,941.1 L969.4,943.5 L970.3,944.0 L971.0,939.6 L972.1,941.8 L973.3,932.8 L974.2,941.7 L975.0,936.0 L976.1,932.4 L976.9,938.8 L977.6,940.9 L978.5,943.8 L979.2,933.5 L980.1,940.8 L981.0,942.0 L982.0,942.5 L983.0,947.0 L984.0,942.2 L985.0,946.0 L986.0,941.6 L987.0,949.1 L987.9,948.6 L989.0,947.5 L989.9,949.0 L990.8,946.0 L991.8,949.5 L992.7,947.2 L993.4,944.9 L994.1,947.7 L994.9,945.2 L996.0,950.5 L996.9,946.3 L998.0,948.0 L999.1,947.3 L1000.2,948.4 L1001.2,946.6 L1002.2,949.9 L1003.2,949.0 L1004.2,946.9 L1005.4,951.1 L1006.1,946.4 L1007.1,946.9 L1008.3,948.0 L1009.0,952.5 L1010.0,951.0 L1010.8,950.0 L1011.6,953.2 L1012.5,953.0 L1013.3,953.1 L1014.0,952.6 L1015.0,949.5 L1016.1,950.6 L1017.2,951.6 L1018.3,949.6 L1019.1,950.1 L1019.9,948.9 L1020.8,952.7 L1021.6,952.8 L1022.7,950.6 L1023.2,947.7 L1024.1,925.0 L1025.1,904.9 L1025.8,887.3 L1026.1,886.0 L1027.0,892.3 L1027.6,904.9 L1028.9,921.3 L1030.2,927.5 L1031.7,931.9 L1033.3,925.0 L1034.6,916.2 L1035.6,913.1 L1036.4,918.7 L1037.5,933.8 L1038.7,945.2 L1040.2,950.2 L1042.7,952.7 L1046.5,954.6 L1051.0,955.6 L1052.0,956.3 L1053.4,956.6 L1054.8,956.1 L1055.5,957.1 Z" fill="#5c5c5c" stroke="#111" stroke-width="0.9" stroke-linejoin="round"/>
<rect x="923.00" y="947.10" width="2.60" height="10.00" fill="#000"/>
<rect x="923.00" y="852.10" width="1.10" height="105.00" fill="#222"/>
<path d="M922.4,957.4H1056.5" stroke="#1a1a1a" stroke-width="1.6" fill="none"/>
<path d="M940.8,901.2v16.4M1021.4,901.2v16.4M940.8,909.4H1021.4" stroke="#2e2e2e" stroke-width="1.4" fill="none"/>
<text font-size="25.2" transform="translate(958.50 895.10) scale(0.9532 1)">45%</text>
<rect x="1083.80" y="809.60" width="132.50" height="149.20" fill="#fff" stroke="#1a1a1a" stroke-width="1.0"/>
<path d="M1083.8,809.6 V958.8 H1216.3" stroke="#1a1a1a" stroke-width="1.6" fill="none"/>
<text font-size="9.2" fill="#2c2c2c" class="s" text-anchor="middle" transform="translate(1074.90 958.80) rotate(-90)">0</text>
<text font-size="9.2" fill="#2c2c2c" class="s" text-anchor="middle" transform="translate(1074.90 940.15) rotate(-90)">10</text>
<text font-size="9.2" fill="#2c2c2c" class="s" text-anchor="middle" transform="translate(1074.90 921.50) rotate(-90)">20</text>
<text font-size="9.2" fill="#2c2c2c" class="s" text-anchor="middle" transform="translate(1074.90 902.85) rotate(-90)">30</text>
<text font-size="9.2" fill="#2c2c2c" class="s" text-anchor="middle" transform="translate(1074.90 884.20) rotate(-90)">40</text>
<text font-size="9.2" fill="#2c2c2c" class="s" text-anchor="middle" transform="translate(1074.90 865.55) rotate(-90)">50</text>
<text font-size="9.2" fill="#2c2c2c" class="s" text-anchor="middle" transform="translate(1074.90 846.90) rotate(-90)">60</text>
<text font-size="9.2" fill="#2c2c2c" class="s" text-anchor="middle" transform="translate(1074.90 828.25) rotate(-90)">70</text>
<text font-size="9.2" fill="#2c2c2c" class="s" text-anchor="middle" transform="translate(1074.90 809.60) rotate(-90)">80</text>
<text x="1076.40" y="974.60" font-size="8.6" fill="#2c2c2c" class="s">10<tspan dy="-3.6" font-size="6.71">0</tspan></text>
<text x="1109.52" y="974.60" font-size="8.6" fill="#2c2c2c" class="s">10<tspan dy="-3.6" font-size="6.71">1</tspan></text>
<text x="1142.65" y="974.60" font-size="8.6" fill="#2c2c2c" class="s">10<tspan dy="-3.6" font-size="6.71">2</tspan></text>
<text x="1175.77" y="974.60" font-size="8.6" fill="#2c2c2c" class="s">10<tspan dy="-3.6" font-size="6.71">3</tspan></text>
<text x="1208.90" y="974.60" font-size="8.6" fill="#2c2c2c" class="s">10<tspan dy="-3.6" font-size="6.71">4</tspan></text>
<path d="M1083.8,958.8h-5M1083.8,940.1h-5M1083.8,921.5h-5M1083.8,902.9h-5M1083.8,884.2h-5M1083.8,865.5h-5M1083.8,846.9h-5M1083.8,828.2h-5M1083.8,809.6h-5M1083.8,958.8v4.6M1116.9,958.8v4.6M1150.0,958.8v4.6M1183.2,958.8v4.6M1216.3,958.8v4.6" stroke="#1a1a1a" stroke-width="1.0" fill="none"/>
<path d="M1083.8,955.1h-2.6M1083.8,951.3h-2.6M1083.8,947.6h-2.6M1083.8,943.9h-2.6M1083.8,936.4h-2.6M1083.8,932.7h-2.6M1083.8,929.0h-2.6M1083.8,925.2h-2.6M1083.8,917.8h-2.6M1083.8,914.0h-2.6M1083.8,910.3h-2.6M1083.8,906.6h-2.6M1083.8,899.1h-2.6M1083.8,895.4h-2.6M1083.8,891.7h-2.6M1083.8,887.9h-2.6M1083.8,880.5h-2.6M1083.8,876.7h-2.6M1083.8,873.0h-2.6M1083.8,869.3h-2.6M1083.8,861.8h-2.6M1083.8,858.1h-2.6M1083.8,854.4h-2.6M1083.8,850.6h-2.6M1083.8,843.2h-2.6M1083.8,839.4h-2.6M1083.8,835.7h-2.6M1083.8,832.0h-2.6M1083.8,824.5h-2.6M1083.8,820.8h-2.6M1083.8,817.1h-2.6M1083.8,813.3h-2.6M1093.8,958.8v2.6M1099.6,958.8v2.6M1103.7,958.8v2.6M1107.0,958.8v2.6M1109.6,958.8v2.6M1111.8,958.8v2.6M1113.7,958.8v2.6M1115.4,958.8v2.6M1126.9,958.8v2.6M1132.7,958.8v2.6M1136.9,958.8v2.6M1140.1,958.8v2.6M1142.7,958.8v2.6M1144.9,958.8v2.6M1146.8,958.8v2.6M1148.5,958.8v2.6M1160.0,958.8v2.6M1165.9,958.8v2.6M1170.0,958.8v2.6M1173.2,958.8v2.6M1175.8,958.8v2.6M1178.0,958.8v2.6M1180.0,958.8v2.6M1181.7,958.8v2.6M1193.1,958.8v2.6M1199.0,958.8v2.6M1203.1,958.8v2.6M1206.3,958.8v2.6M1209.0,958.8v2.6M1211.2,958.8v2.6M1213.1,958.8v2.6M1214.8,958.8v2.6" stroke="#1a1a1a" stroke-width="0.85" fill="none"/>
<path d="M1085.0,958.5 L1085.0,957.6 L1086.4,957.1 L1086.7,956.6 L1087.8,956.7 L1088.5,957.4 L1089.4,956.5 L1090.2,956.8 L1091.1,955.4 L1092.3,956.8 L1093.5,957.2 L1094.6,955.3 L1095.3,956.3 L1096.3,955.1 L1097.1,956.5 L1098.3,956.3 L1099.1,957.0 L1100.3,956.4 L1101.5,956.9 L1102.6,955.0 L1103.8,957.0 L1104.6,956.9 L1105.7,956.5 L1106.9,956.5 L1108.0,954.8 L1108.8,956.2 L1110.0,956.2 L1110.9,956.6 L1112.0,956.7 L1113.0,956.2 L1113.9,956.8 L1115.0,954.7 L1115.8,956.5 L1117.0,956.2 L1117.8,957.0 L1118.9,956.5 L1119.8,956.6 L1120.8,955.9 L1121.7,956.9 L1122.9,954.8 L1123.6,956.2 L1124.6,956.4 L1125.7,954.4 L1126.7,955.9 L1127.5,956.0 L1128.3,956.1 L1129.1,953.3 L1130.0,953.0 L1131.2,952.6 L1131.9,951.9 L1132.7,953.0 L1133.8,953.0 L1134.7,954.8 L1135.4,953.2 L1136.3,953.8 L1137.1,955.2 L1137.9,954.0 L1138.9,955.2 L1139.8,955.1 L1140.8,955.6 L1142.0,955.0 L1142.8,955.8 L1143.6,955.7 L1144.3,954.9 L1145.3,955.5 L1146.4,955.7 L1147.4,953.4 L1148.4,955.0 L1149.3,953.2 L1150.4,955.6 L1151.2,954.9 L1152.2,955.0 L1153.0,954.9 L1154.0,954.6 L1155.0,955.4 L1155.9,955.2 L1156.9,956.4 L1157.7,953.6 L1158.8,955.6 L1159.9,956.2 L1160.7,955.7 L1161.8,956.7 L1162.7,954.3 L1163.7,954.3 L1164.4,954.5 L1165.6,956.9 L1166.5,955.8 L1167.3,956.1 L1168.5,956.0 L1169.4,957.1 L1170.4,957.0 L1171.3,956.9 L1172.2,956.7 L1173.3,955.3 L1174.2,957.3 L1175.3,957.0 L1176.4,955.5 L1177.1,956.5 L1177.9,957.0 L1178.8,956.8 L1179.6,956.8 L1180.5,957.3 L1181.3,956.7 L1182.1,957.2 L1183.0,957.2 L1184.2,956.6 L1185.0,957.1 L1185.7,957.2 L1187.0,941.5 L1188.2,920.1 L1189.5,903.8 L1190.8,891.2 L1191.6,888.7 L1192.6,895.0 L1193.6,912.6 L1195.2,916.4 L1196.4,927.7 L1197.4,931.5 L1198.7,922.7 L1199.6,917.0 L1200.2,922.7 L1200.8,939.0 L1201.4,958.0 L1202.4,958.1 L1203.8,958.2 L1205.2,958.1 L1206.6,958.0 L1208.0,958.4 L1209.4,958.1 L1210.8,958.4 L1212.2,958.1 L1213.6,958.3 L1215.0,957.9 L1215.3,958.5 Z" fill="#5c5c5c" stroke="#111" stroke-width="0.9" stroke-linejoin="round"/>
<rect x="1084.40" y="951.50" width="2.60" height="7.00" fill="#000"/>
<rect x="1084.40" y="944.50" width="1.10" height="14.00" fill="#222"/>
<path d="M1083.8,958.8H1216.3" stroke="#1a1a1a" stroke-width="1.6" fill="none"/>
<path d="M1102.7,901.6v16.4M1182.3,901.6v16.4M1102.7,909.8H1182.3" stroke="#2e2e2e" stroke-width="1.4" fill="none"/>
<text font-size="25.2" transform="translate(1128.50 897.10) scale(0.9484 1)">4%</text>
<rect x="1238.60" y="809.60" width="136.70" height="148.20" fill="#fff" stroke="#1a1a1a" stroke-width="1.0"/>
<path d="M1238.6,809.6 V957.8 H1375.3" stroke="#1a1a1a" stroke-width="1.6" fill="none"/>
<text font-size="9.2" fill="#2c2c2c" class="s" text-anchor="middle" transform="translate(1229.70 957.80) rotate(-90)">0</text>
<text font-size="9.2" fill="#2c2c2c" class="s" text-anchor="middle" transform="translate(1229.70 939.27) rotate(-90)">10</text>
<text font-size="9.2" fill="#2c2c2c" class="s" text-anchor="middle" transform="translate(1229.70 920.75) rotate(-90)">20</text>
<text font-size="9.2" fill="#2c2c2c" class="s" text-anchor="middle" transform="translate(1229.70 902.23) rotate(-90)">30</text>
<text font-size="9.2" fill="#2c2c2c" class="s" text-anchor="middle" transform="translate(1229.70 883.70) rotate(-90)">40</text>
<text font-size="9.2" fill="#2c2c2c" class="s" text-anchor="middle" transform="translate(1229.70 865.17) rotate(-90)">50</text>
<text font-size="9.2" fill="#2c2c2c" class="s" text-anchor="middle" transform="translate(1229.70 846.65) rotate(-90)">60</text>
<text font-size="9.2" fill="#2c2c2c" class="s" text-anchor="middle" transform="translate(1229.70 828.12) rotate(-90)">70</text>
<text font-size="9.2" fill="#2c2c2c" class="s" text-anchor="middle" transform="translate(1229.70 809.60) rotate(-90)">80</text>
<text x="1231.20" y="973.60" font-size="8.6" fill="#2c2c2c" class="s">10<tspan dy="-3.6" font-size="6.71">0</tspan></text>
<text x="1265.37" y="973.60" font-size="8.6" fill="#2c2c2c" class="s">10<tspan dy="-3.6" font-size="6.71">1</tspan></text>
<text x="1299.55" y="973.60" font-size="8.6" fill="#2c2c2c" class="s">10<tspan dy="-3.6" font-size="6.71">2</tspan></text>
<text x="1333.72" y="973.60" font-size="8.6" fill="#2c2c2c" class="s">10<tspan dy="-3.6" font-size="6.71">3</tspan></text>
<text x="1367.90" y="973.60" font-size="8.6" fill="#2c2c2c" class="s">10<tspan dy="-3.6" font-size="6.71">4</tspan></text>
<path d="M1238.6,957.8h-5M1238.6,939.3h-5M1238.6,920.8h-5M1238.6,902.2h-5M1238.6,883.7h-5M1238.6,865.2h-5M1238.6,846.6h-5M1238.6,828.1h-5M1238.6,809.6h-5M1238.6,957.8v4.6M1272.8,957.8v4.6M1306.9,957.8v4.6M1341.1,957.8v4.6M1375.3,957.8v4.6" stroke="#1a1a1a" stroke-width="1.0" fill="none"/>
<path d="M1238.6,954.1h-2.6M1238.6,950.4h-2.6M1238.6,946.7h-2.6M1238.6,943.0h-2.6M1238.6,935.6h-2.6M1238.6,931.9h-2.6M1238.6,928.2h-2.6M1238.6,924.5h-2.6M1238.6,917.0h-2.6M1238.6,913.3h-2.6M1238.6,909.6h-2.6M1238.6,905.9h-2.6M1238.6,898.5h-2.6M1238.6,894.8h-2.6M1238.6,891.1h-2.6M1238.6,887.4h-2.6M1238.6,880.0h-2.6M1238.6,876.3h-2.6M1238.6,872.6h-2.6M1238.6,868.9h-2.6M1238.6,861.5h-2.6M1238.6,857.8h-2.6M1238.6,854.1h-2.6M1238.6,850.4h-2.6M1238.6,842.9h-2.6M1238.6,839.2h-2.6M1238.6,835.5h-2.6M1238.6,831.8h-2.6M1238.6,824.4h-2.6M1238.6,820.7h-2.6M1238.6,817.0h-2.6M1238.6,813.3h-2.6M1248.9,957.8v2.6M1254.9,957.8v2.6M1259.2,957.8v2.6M1262.5,957.8v2.6M1265.2,957.8v2.6M1267.5,957.8v2.6M1269.5,957.8v2.6M1271.2,957.8v2.6M1283.1,957.8v2.6M1289.1,957.8v2.6M1293.4,957.8v2.6M1296.7,957.8v2.6M1299.4,957.8v2.6M1301.7,957.8v2.6M1303.6,957.8v2.6M1305.4,957.8v2.6M1317.2,957.8v2.6M1323.3,957.8v2.6M1327.5,957.8v2.6M1330.8,957.8v2.6M1333.5,957.8v2.6M1335.8,957.8v2.6M1337.8,957.8v2.6M1339.6,957.8v2.6M1351.4,957.8v2.6M1357.4,957.8v2.6M1361.7,957.8v2.6M1365.0,957.8v2.6M1367.7,957.8v2.6M1370.0,957.8v2.6M1372.0,957.8v2.6M1373.7,957.8v2.6" stroke="#1a1a1a" stroke-width="0.85" fill="none"/>
<path d="M1239.8,957.5 L1239.8,956.9 L1241.1,956.8 L1242.1,956.6 L1243.3,956.6 L1243.5,955.6 L1244.3,955.0 L1245.2,955.0 L1246.3,953.9 L1247.5,955.7 L1248.3,955.0 L1249.3,955.8 L1250.3,954.0 L1251.4,955.8 L1252.3,956.1 L1253.5,955.9 L1254.5,955.5 L1255.5,955.5 L1256.6,955.4 L1257.5,956.1 L1258.4,954.2 L1259.2,955.4 L1260.2,956.1 L1261.0,955.4 L1261.9,955.7 L1262.9,956.1 L1263.9,955.4 L1264.9,955.7 L1266.0,954.0 L1267.0,955.9 L1267.7,955.8 L1268.5,955.0 L1269.5,955.7 L1270.6,954.9 L1271.7,953.5 L1272.7,954.7 L1273.9,955.3 L1275.0,952.8 L1275.9,952.8 L1276.7,954.4 L1277.5,954.3 L1278.6,954.3 L1279.5,950.5 L1280.3,953.2 L1281.5,950.4 L1282.2,949.6 L1283.0,951.2 L1284.1,948.3 L1285.0,948.8 L1286.0,948.9 L1286.7,946.8 L1287.8,948.7 L1288.7,947.2 L1289.6,948.3 L1290.8,943.8 L1291.5,949.6 L1292.6,943.7 L1293.7,949.2 L1294.4,945.1 L1295.6,946.8 L1296.7,945.0 L1297.6,945.5 L1298.5,951.5 L1299.6,948.3 L1300.7,951.4 L1301.5,948.8 L1302.3,950.1 L1303.3,945.7 L1304.3,949.5 L1305.2,948.7 L1306.3,944.8 L1307.0,945.1 L1308.1,951.2 L1308.9,949.9 L1309.7,950.9 L1310.5,948.3 L1311.4,951.7 L1312.5,947.5 L1313.4,947.9 L1314.5,950.7 L1315.2,950.2 L1316.3,949.1 L1317.5,953.2 L1318.7,953.6 L1319.6,952.3 L1320.6,952.6 L1321.8,952.1 L1322.9,952.7 L1323.8,954.7 L1324.8,951.6 L1325.6,951.7 L1326.3,954.2 L1327.4,953.5 L1328.4,954.5 L1329.2,954.8 L1330.3,955.0 L1331.0,953.2 L1331.9,954.9 L1332.9,951.7 L1333.8,954.2 L1334.6,953.5 L1335.4,954.1 L1336.1,953.2 L1337.2,953.6 L1338.2,954.4 L1338.8,953.7 L1340.7,948.1 L1342.0,938.0 L1343.2,916.6 L1344.1,897.8 L1344.9,885.2 L1345.8,897.8 L1346.6,920.4 L1347.6,934.2 L1348.6,939.3 L1349.9,930.5 L1351.4,927.9 L1352.7,919.1 L1353.7,929.2 L1354.9,933.0 L1356.2,944.3 L1358.0,951.8 L1359.6,957.0 L1360.6,957.3 L1362.0,956.8 L1363.4,957.5 L1364.8,957.0 L1366.2,956.9 L1367.6,957.1 L1369.0,957.3 L1370.4,957.4 L1371.8,956.8 L1373.2,956.8 L1374.3,957.5 Z" fill="#5c5c5c" stroke="#111" stroke-width="0.9" stroke-linejoin="round"/>
<rect x="1239.20" y="945.50" width="2.60" height="12.00" fill="#000"/>
<rect x="1239.20" y="933.50" width="1.10" height="24.00" fill="#222"/>
<path d="M1238.6,957.8H1375.3" stroke="#1a1a1a" stroke-width="1.6" fill="none"/>
<path d="M1257.7,901.6v16.4M1339.1,901.6v16.4M1257.7,909.8H1339.1" stroke="#2e2e2e" stroke-width="1.4" fill="none"/>
<text font-size="25.2" transform="translate(1274.90 897.10) scale(0.9491 1)">27%</text>
<text font-size="25.2" transform="translate(1626.38 460.00) scale(0.9540 1)">DMSO</text>
<text font-size="25.2" transform="translate(1800.07 459.20) scale(0.9549 1)">DTIC</text>
<text font-size="25.2" transform="translate(1557.20 768.37) rotate(-90) scale(0.9419 1)">counts</text>
<text font-size="25.2" transform="translate(1915.44 727.30) scale(0.9361 1)">SAFit</text>
<text font-size="25.2" transform="translate(1916.64 924.80) scale(0.9208 1)">Rapa</text>
<text font-size="25.2" transform="translate(1653.89 1026.80) scale(0.9453 1)">Propidium iodide</text>
<rect x="1591.60" y="470.40" width="140.10" height="154.50" fill="#fff" stroke="#1a1a1a" stroke-width="1.0"/>
<path d="M1591.6,470.4 V624.9 H1731.7" stroke="#1a1a1a" stroke-width="1.6" fill="none"/>
<text font-size="8.5" fill="#2c2c2c" class="s" text-anchor="middle" transform="translate(1584.10 624.90) rotate(-90)">0</text>
<text font-size="8.5" fill="#2c2c2c" class="s" text-anchor="middle" transform="translate(1584.10 594.00) rotate(-90)">20</text>
<text font-size="8.5" fill="#2c2c2c" class="s" text-anchor="middle" transform="translate(1584.10 563.10) rotate(-90)">40</text>
<text font-size="8.5" fill="#2c2c2c" class="s" text-anchor="middle" transform="translate(1584.10 532.20) rotate(-90)">60</text>
<text font-size="8.5" fill="#2c2c2c" class="s" text-anchor="middle" transform="translate(1584.10 501.30) rotate(-90)">80</text>
<text font-size="8.5" fill="#2c2c2c" class="s" text-anchor="middle" transform="translate(1584.10 470.40) rotate(-90)">100</text>
<text x="1584.20" y="640.30" font-size="8.7" fill="#2c2c2c" class="s">10<tspan dy="-3.6" font-size="6.79">0</tspan></text>
<text x="1619.22" y="640.30" font-size="8.7" fill="#2c2c2c" class="s">10<tspan dy="-3.6" font-size="6.79">1</tspan></text>
<text x="1654.25" y="640.30" font-size="8.7" fill="#2c2c2c" class="s">10<tspan dy="-3.6" font-size="6.79">2</tspan></text>
<text x="1689.27" y="640.30" font-size="8.7" fill="#2c2c2c" class="s">10<tspan dy="-3.6" font-size="6.79">3</tspan></text>
<text x="1724.30" y="640.30" font-size="8.7" fill="#2c2c2c" class="s">10<tspan dy="-3.6" font-size="6.79">4</tspan></text>
<path d="M1591.6,624.9h-5M1591.6,594.0h-5M1591.6,563.1h-5M1591.6,532.2h-5M1591.6,501.3h-5M1591.6,470.4h-5M1591.6,624.9v4.6M1626.6,624.9v4.6M1661.7,624.9v4.6M1696.7,624.9v4.6M1731.7,624.9v4.6" stroke="#1a1a1a" stroke-width="1.0" fill="none"/>
<path d="M1591.6,617.2h-2.6M1591.6,609.4h-2.6M1591.6,601.7h-2.6M1591.6,586.3h-2.6M1591.6,578.5h-2.6M1591.6,570.8h-2.6M1591.6,555.4h-2.6M1591.6,547.6h-2.6M1591.6,539.9h-2.6M1591.6,524.5h-2.6M1591.6,516.7h-2.6M1591.6,509.0h-2.6M1591.6,493.6h-2.6M1591.6,485.8h-2.6M1591.6,478.1h-2.6M1602.1,624.9v2.6M1608.3,624.9v2.6M1612.7,624.9v2.6M1616.1,624.9v2.6M1618.9,624.9v2.6M1621.2,624.9v2.6M1623.2,624.9v2.6M1625.0,624.9v2.6M1637.2,624.9v2.6M1643.3,624.9v2.6M1647.7,624.9v2.6M1651.1,624.9v2.6M1653.9,624.9v2.6M1656.2,624.9v2.6M1658.3,624.9v2.6M1660.0,624.9v2.6M1672.2,624.9v2.6M1678.4,624.9v2.6M1682.7,624.9v2.6M1686.1,624.9v2.6M1688.9,624.9v2.6M1691.2,624.9v2.6M1693.3,624.9v2.6M1695.1,624.9v2.6M1707.2,624.9v2.6M1713.4,624.9v2.6M1717.8,624.9v2.6M1721.2,624.9v2.6M1723.9,624.9v2.6M1726.3,624.9v2.6M1728.3,624.9v2.6M1730.1,624.9v2.6" stroke="#1a1a1a" stroke-width="0.85" fill="none"/>
<path d="M1592.8,624.6 L1592.8,624.6 L1594.0,624.6 L1595.4,624.6 L1596.6,624.6 L1597.8,624.6 L1599.1,624.6 L1600.4,624.6 L1601.5,624.6 L1602.6,624.6 L1604.1,624.6 L1605.1,624.6 L1606.5,624.6 L1607.8,624.6 L1609.1,624.6 L1610.5,624.6 L1611.8,624.6 L1613.3,624.6 L1614.7,624.6 L1616.1,624.6 L1617.5,624.6 L1618.5,624.6 L1619.7,624.6 L1620.8,624.6 L1621.8,624.6 L1622.8,624.6 L1624.0,624.6 L1625.2,624.6 L1626.1,624.6 L1627.4,624.6 L1628.8,624.6 L1630.3,624.6 L1631.6,624.6 L1632.8,624.6 L1634.3,624.6 L1635.7,624.6 L1636.5,624.3 L1637.5,623.3 L1638.5,621.1 L1639.3,622.7 L1640.3,624.1 L1641.5,624.3 L1642.4,624.2 L1643.4,623.2 L1644.4,623.2 L1645.2,624.2 L1646.0,623.8 L1646.9,622.8 L1647.7,622.5 L1648.8,622.5 L1649.9,620.1 L1650.9,619.4 L1651.9,615.9 L1652.7,617.2 L1653.8,616.6 L1654.7,619.0 L1655.8,615.6 L1656.9,609.0 L1658.0,614.5 L1659.1,618.8 L1660.0,618.2 L1661.0,618.0 L1662.0,619.3 L1663.0,619.8 L1664.0,620.6 L1664.8,615.9 L1665.6,618.4 L1666.3,616.4 L1667.2,619.7 L1668.0,614.9 L1669.1,620.3 L1670.3,620.7 L1671.2,620.4 L1672.3,622.0 L1673.4,622.0 L1674.5,620.1 L1675.5,622.9 L1676.5,622.5 L1677.6,621.5 L1678.4,621.6 L1679.4,619.5 L1680.4,620.7 L1681.5,622.4 L1682.6,622.6 L1683.6,622.8 L1684.6,621.6 L1685.4,619.3 L1686.5,622.9 L1687.2,622.4 L1688.0,623.6 L1689.0,622.3 L1690.0,623.3 L1691.0,621.9 L1692.1,623.3 L1693.2,621.8 L1693.9,622.7 L1695.8,613.9 L1696.6,580.1 L1697.6,578.1 L1697.8,547.1 L1698.8,539.9 L1699.3,550.0 L1700.2,552.0 L1700.9,581.0 L1701.5,601.4 L1702.6,602.3 L1703.6,606.2 L1705.0,597.5 L1705.7,587.8 L1706.7,579.6 L1708.0,583.9 L1708.6,589.7 L1709.2,603.3 L1709.9,615.9 L1710.6,624.3 L1711.6,624.6 L1713.0,624.6 L1714.4,624.6 L1715.8,624.6 L1717.2,624.6 L1718.6,624.6 L1720.0,624.6 L1721.4,624.6 L1722.8,624.6 L1724.2,624.6 L1725.6,624.6 L1727.0,624.6 L1728.4,624.6 L1729.8,624.6 L1730.7,624.6 Z" fill="#a2a2a2" stroke="#111" stroke-width="0.85" stroke-linejoin="round"/>
<path d="M1591.6,624.9H1731.7" stroke="#1a1a1a" stroke-width="1.6" fill="none"/>
<path d="M1641.1,582.7v15.6M1692.9,582.7v15.6M1641.1,590.5H1692.9" stroke="#2e2e2e" stroke-width="1.4" fill="none"/>
<text font-size="25.2" transform="translate(1645.46 575.00) scale(0.9196 1)">15%</text>
<rect x="1758.90" y="468.30" width="140.10" height="155.10" fill="#fff" stroke="#1a1a1a" stroke-width="1.0"/>
<path d="M1758.9,468.3 V623.4 H1899.0" stroke="#1a1a1a" stroke-width="1.6" fill="none"/>
<text font-size="8.5" fill="#2c2c2c" class="s" text-anchor="middle" transform="translate(1751.40 623.40) rotate(-90)">0</text>
<text font-size="8.5" fill="#2c2c2c" class="s" text-anchor="middle" transform="translate(1751.40 592.38) rotate(-90)">20</text>
<text font-size="8.5" fill="#2c2c2c" class="s" text-anchor="middle" transform="translate(1751.40 561.36) rotate(-90)">40</text>
<text font-size="8.5" fill="#2c2c2c" class="s" text-anchor="middle" transform="translate(1751.40 530.34) rotate(-90)">60</text>
<text font-size="8.5" fill="#2c2c2c" class="s" text-anchor="middle" transform="translate(1751.40 499.32) rotate(-90)">80</text>
<text font-size="8.5" fill="#2c2c2c" class="s" text-anchor="middle" transform="translate(1751.40 468.30) rotate(-90)">100</text>
<text x="1751.50" y="638.80" font-size="8.7" fill="#2c2c2c" class="s">10<tspan dy="-3.6" font-size="6.79">0</tspan></text>
<text x="1786.53" y="638.80" font-size="8.7" fill="#2c2c2c" class="s">10<tspan dy="-3.6" font-size="6.79">1</tspan></text>
<text x="1821.55" y="638.80" font-size="8.7" fill="#2c2c2c" class="s">10<tspan dy="-3.6" font-size="6.79">2</tspan></text>
<text x="1856.57" y="638.80" font-size="8.7" fill="#2c2c2c" class="s">10<tspan dy="-3.6" font-size="6.79">3</tspan></text>
<text x="1891.60" y="638.80" font-size="8.7" fill="#2c2c2c" class="s">10<tspan dy="-3.6" font-size="6.79">4</tspan></text>
<path d="M1758.9,623.4h-5M1758.9,592.4h-5M1758.9,561.4h-5M1758.9,530.3h-5M1758.9,499.3h-5M1758.9,468.3h-5M1758.9,623.4v4.6M1793.9,623.4v4.6M1829.0,623.4v4.6M1864.0,623.4v4.6M1899.0,623.4v4.6" stroke="#1a1a1a" stroke-width="1.0" fill="none"/>
<path d="M1758.9,615.6h-2.6M1758.9,607.9h-2.6M1758.9,600.1h-2.6M1758.9,584.6h-2.6M1758.9,576.9h-2.6M1758.9,569.1h-2.6M1758.9,553.6h-2.6M1758.9,545.9h-2.6M1758.9,538.1h-2.6M1758.9,522.6h-2.6M1758.9,514.8h-2.6M1758.9,507.1h-2.6M1758.9,491.6h-2.6M1758.9,483.8h-2.6M1758.9,476.1h-2.6M1769.4,623.4v2.6M1775.6,623.4v2.6M1780.0,623.4v2.6M1783.4,623.4v2.6M1786.2,623.4v2.6M1788.5,623.4v2.6M1790.5,623.4v2.6M1792.3,623.4v2.6M1804.5,623.4v2.6M1810.6,623.4v2.6M1815.0,623.4v2.6M1818.4,623.4v2.6M1821.2,623.4v2.6M1823.5,623.4v2.6M1825.6,623.4v2.6M1827.3,623.4v2.6M1839.5,623.4v2.6M1845.7,623.4v2.6M1850.0,623.4v2.6M1853.4,623.4v2.6M1856.2,623.4v2.6M1858.5,623.4v2.6M1860.6,623.4v2.6M1862.4,623.4v2.6M1874.5,623.4v2.6M1880.7,623.4v2.6M1885.1,623.4v2.6M1888.5,623.4v2.6M1891.2,623.4v2.6M1893.6,623.4v2.6M1895.6,623.4v2.6M1897.4,623.4v2.6" stroke="#1a1a1a" stroke-width="0.85" fill="none"/>
<path d="M1760.1,623.1 L1760.1,623.1 L1761.0,623.1 L1762.2,623.1 L1763.4,623.1 L1764.4,623.1 L1765.5,623.1 L1766.6,623.1 L1767.5,623.1 L1768.4,623.1 L1769.4,623.1 L1770.5,623.1 L1771.7,623.1 L1773.1,623.1 L1774.6,623.1 L1775.9,623.1 L1777.1,623.1 L1778.3,623.1 L1779.3,623.1 L1780.3,623.1 L1781.7,623.1 L1782.9,623.1 L1783.8,623.1 L1785.0,623.1 L1786.0,623.1 L1787.0,623.1 L1788.3,623.1 L1789.5,623.1 L1790.7,623.1 L1792.1,623.1 L1793.6,623.1 L1795.0,623.1 L1796.4,623.1 L1797.5,623.1 L1798.9,623.1 L1800.3,623.1 L1801.6,623.1 L1802.9,623.1 L1804.3,623.1 L1805.0,622.8 L1805.7,622.5 L1806.5,622.1 L1807.5,621.9 L1808.5,622.1 L1809.5,622.2 L1810.4,621.6 L1811.2,621.8 L1812.4,621.9 L1813.2,621.6 L1814.3,621.3 L1815.4,620.5 L1816.5,617.3 L1817.6,619.1 L1818.6,617.9 L1819.7,617.1 L1820.5,617.6 L1821.3,619.2 L1822.3,619.2 L1823.1,616.4 L1823.9,617.8 L1825.0,618.5 L1826.0,618.4 L1827.1,618.1 L1828.0,618.2 L1828.9,616.5 L1829.7,618.8 L1830.9,619.9 L1831.9,616.5 L1832.9,620.0 L1834.0,619.3 L1835.0,616.8 L1835.8,619.4 L1836.6,619.3 L1837.3,618.6 L1838.5,620.6 L1839.4,619.3 L1840.5,620.6 L1841.5,620.0 L1842.4,618.6 L1843.6,618.9 L1844.3,621.4 L1845.3,620.6 L1846.2,621.3 L1847.3,620.9 L1848.0,621.9 L1849.0,621.8 L1849.8,620.7 L1850.7,622.1 L1851.6,621.5 L1852.6,620.6 L1853.3,620.8 L1854.5,620.6 L1855.6,619.2 L1856.7,620.7 L1857.5,619.5 L1858.4,621.3 L1858.4,621.6 L1859.9,616.8 L1861.0,607.1 L1861.8,593.6 L1862.8,592.6 L1863.3,572.3 L1863.8,565.0 L1864.5,571.3 L1865.2,592.6 L1865.9,610.0 L1866.7,612.9 L1868.4,611.0 L1869.6,604.2 L1870.5,600.3 L1872.5,602.3 L1873.4,610.0 L1874.9,615.8 L1876.3,617.8 L1877.8,622.8 L1878.8,623.1 L1880.2,623.1 L1881.6,623.1 L1883.0,623.1 L1884.4,623.1 L1885.8,623.1 L1887.2,623.1 L1888.6,623.1 L1890.0,623.1 L1891.4,623.1 L1892.8,623.1 L1894.2,623.1 L1895.6,623.1 L1897.0,623.1 L1898.0,623.1 Z" fill="#a2a2a2" stroke="#111" stroke-width="0.85" stroke-linejoin="round"/>
<path d="M1758.9,623.4H1899.0" stroke="#1a1a1a" stroke-width="1.6" fill="none"/>
<path d="M1808.3,580.6v16.4M1859.7,580.6v16.4M1808.3,588.8H1859.7" stroke="#2e2e2e" stroke-width="1.4" fill="none"/>
<text font-size="25.2" transform="translate(1796.35 575.00) scale(0.9276 1)">16.9%</text>
<rect x="1587.50" y="648.70" width="144.80" height="154.20" fill="#fff" stroke="#1a1a1a" stroke-width="1.0"/>
<path d="M1587.5,648.7 V802.9 H1732.3" stroke="#1a1a1a" stroke-width="1.6" fill="none"/>
<text font-size="7.7" fill="#2c2c2c" class="s" text-anchor="middle" transform="translate(1581.20 802.90) rotate(-90)">0</text>
<text font-size="7.7" fill="#2c2c2c" class="s" text-anchor="middle" transform="translate(1581.20 772.06) rotate(-90)">40</text>
<text font-size="7.7" fill="#2c2c2c" class="s" text-anchor="middle" transform="translate(1581.20 741.22) rotate(-90)">80</text>
<text font-size="7.7" fill="#2c2c2c" class="s" text-anchor="middle" transform="translate(1581.20 710.38) rotate(-90)">120</text>
<text font-size="7.7" fill="#2c2c2c" class="s" text-anchor="middle" transform="translate(1581.20 679.54) rotate(-90)">160</text>
<text font-size="7.7" fill="#2c2c2c" class="s" text-anchor="middle" transform="translate(1581.20 648.70) rotate(-90)">200</text>
<text x="1580.10" y="817.70" font-size="8.0" fill="#2c2c2c" class="s">10<tspan dy="-3.6" font-size="6.24">0</tspan></text>
<text x="1616.30" y="817.70" font-size="8.0" fill="#2c2c2c" class="s">10<tspan dy="-3.6" font-size="6.24">1</tspan></text>
<text x="1652.50" y="817.70" font-size="8.0" fill="#2c2c2c" class="s">10<tspan dy="-3.6" font-size="6.24">2</tspan></text>
<text x="1688.70" y="817.70" font-size="8.0" fill="#2c2c2c" class="s">10<tspan dy="-3.6" font-size="6.24">3</tspan></text>
<text x="1724.90" y="817.70" font-size="8.0" fill="#2c2c2c" class="s">10<tspan dy="-3.6" font-size="6.24">4</tspan></text>
<path d="M1587.5,802.9h-5M1587.5,772.1h-5M1587.5,741.2h-5M1587.5,710.4h-5M1587.5,679.5h-5M1587.5,648.7h-5M1587.5,802.9v4.6M1623.7,802.9v4.6M1659.9,802.9v4.6M1696.1,802.9v4.6M1732.3,802.9v4.6" stroke="#1a1a1a" stroke-width="1.0" fill="none"/>
<path d="M1587.5,795.2h-2.6M1587.5,787.5h-2.6M1587.5,779.8h-2.6M1587.5,764.3h-2.6M1587.5,756.6h-2.6M1587.5,748.9h-2.6M1587.5,733.5h-2.6M1587.5,725.8h-2.6M1587.5,718.1h-2.6M1587.5,702.7h-2.6M1587.5,695.0h-2.6M1587.5,687.2h-2.6M1587.5,671.8h-2.6M1587.5,664.1h-2.6M1587.5,656.4h-2.6M1598.4,802.9v2.6M1604.8,802.9v2.6M1609.3,802.9v2.6M1612.8,802.9v2.6M1615.7,802.9v2.6M1618.1,802.9v2.6M1620.2,802.9v2.6M1622.0,802.9v2.6M1634.6,802.9v2.6M1641.0,802.9v2.6M1645.5,802.9v2.6M1649.0,802.9v2.6M1651.9,802.9v2.6M1654.3,802.9v2.6M1656.4,802.9v2.6M1658.2,802.9v2.6M1670.8,802.9v2.6M1677.2,802.9v2.6M1681.7,802.9v2.6M1685.2,802.9v2.6M1688.1,802.9v2.6M1690.5,802.9v2.6M1692.6,802.9v2.6M1694.4,802.9v2.6M1707.0,802.9v2.6M1713.4,802.9v2.6M1717.9,802.9v2.6M1721.4,802.9v2.6M1724.3,802.9v2.6M1726.7,802.9v2.6M1728.8,802.9v2.6M1730.6,802.9v2.6" stroke="#1a1a1a" stroke-width="0.85" fill="none"/>
<path d="M1588.7,802.6 L1588.7,802.6 L1590.1,802.6 L1591.5,802.6 L1592.7,802.6 L1594.0,802.6 L1594.9,802.6 L1596.4,802.6 L1597.5,802.6 L1598.5,802.6 L1599.7,802.6 L1600.6,802.6 L1601.9,802.6 L1603.2,802.6 L1604.2,802.6 L1605.1,802.6 L1606.3,802.6 L1607.3,802.6 L1608.7,802.6 L1610.1,802.6 L1611.2,802.6 L1612.2,802.6 L1613.1,802.6 L1614.5,802.6 L1615.7,802.6 L1616.8,802.6 L1617.9,802.6 L1619.4,802.6 L1620.6,802.6 L1621.9,802.6 L1623.1,802.6 L1624.1,802.6 L1625.2,802.6 L1626.3,802.6 L1627.3,802.6 L1628.6,802.6 L1629.8,802.6 L1630.8,802.6 L1632.3,802.6 L1633.5,802.6 L1634.9,802.6 L1635.9,802.6 L1637.3,802.6 L1638.5,802.6 L1639.9,802.6 L1640.0,802.2 L1641.0,802.1 L1641.8,801.7 L1642.6,801.6 L1643.8,800.1 L1644.8,801.1 L1645.6,799.7 L1646.8,800.9 L1647.5,800.5 L1648.4,798.9 L1649.5,800.1 L1650.5,799.1 L1651.5,797.7 L1652.5,798.1 L1653.6,798.4 L1654.5,796.8 L1655.2,797.0 L1656.0,797.9 L1656.8,797.6 L1657.8,798.7 L1658.9,794.2 L1659.8,797.4 L1660.9,797.9 L1662.0,799.2 L1662.9,799.3 L1663.7,798.0 L1664.7,799.8 L1665.8,795.9 L1666.7,795.8 L1667.5,797.6 L1668.6,799.0 L1669.5,800.1 L1670.4,800.3 L1671.4,800.1 L1672.2,800.6 L1672.9,800.4 L1674.0,801.1 L1674.8,800.9 L1675.7,800.0 L1676.8,801.4 L1677.7,801.3 L1678.7,801.4 L1679.7,801.5 L1680.7,801.4 L1681.5,801.3 L1682.4,801.5 L1683.3,800.2 L1684.2,801.5 L1685.3,800.2 L1686.4,800.0 L1687.1,801.3 L1688.0,801.4 L1688.8,801.2 L1689.9,801.0 L1690.7,801.2 L1691.8,801.2 L1692.6,801.3 L1693.6,801.3 L1694.4,801.6 L1694.9,801.3 L1696.3,797.0 L1697.0,777.6 L1698.0,776.6 L1698.4,752.4 L1698.9,746.6 L1699.9,748.6 L1700.5,762.1 L1701.2,778.6 L1701.9,788.3 L1703.6,790.2 L1705.3,789.2 L1706.0,783.4 L1707.0,777.6 L1708.0,781.5 L1708.4,794.1 L1708.9,802.3 L1709.9,802.6 L1711.3,802.6 L1712.7,802.6 L1714.1,802.6 L1715.5,802.6 L1716.9,802.6 L1718.3,802.6 L1719.7,802.6 L1721.1,802.6 L1722.5,802.6 L1723.9,802.6 L1725.3,802.6 L1726.7,802.6 L1728.1,802.6 L1729.5,802.6 L1730.9,802.6 L1731.3,802.6 Z" fill="#a2a2a2" stroke="#111" stroke-width="0.85" stroke-linejoin="round"/>
<path d="M1587.5,802.9H1732.3" stroke="#1a1a1a" stroke-width="1.6" fill="none"/>
<path d="M1637.5,771.4v11.2M1691.0,771.4v11.2M1637.5,777.0H1691.0" stroke="#2e2e2e" stroke-width="1.4" fill="none"/>
<text font-size="25.2" transform="translate(1630.45 762.70) scale(0.9262 1)">16.9%</text>
<rect x="1759.20" y="649.80" width="140.50" height="154.40" fill="#fff" stroke="#1a1a1a" stroke-width="1.0"/>
<path d="M1759.2,649.8 V804.2 H1899.7" stroke="#1a1a1a" stroke-width="1.6" fill="none"/>
<text font-size="7.7" fill="#2c2c2c" class="s" text-anchor="middle" transform="translate(1752.90 804.20) rotate(-90)">0</text>
<text font-size="7.7" fill="#2c2c2c" class="s" text-anchor="middle" transform="translate(1752.90 773.32) rotate(-90)">20</text>
<text font-size="7.7" fill="#2c2c2c" class="s" text-anchor="middle" transform="translate(1752.90 742.44) rotate(-90)">40</text>
<text font-size="7.7" fill="#2c2c2c" class="s" text-anchor="middle" transform="translate(1752.90 711.56) rotate(-90)">60</text>
<text font-size="7.7" fill="#2c2c2c" class="s" text-anchor="middle" transform="translate(1752.90 680.68) rotate(-90)">80</text>
<text font-size="7.7" fill="#2c2c2c" class="s" text-anchor="middle" transform="translate(1752.90 649.80) rotate(-90)">100</text>
<text x="1751.80" y="819.00" font-size="8.0" fill="#2c2c2c" class="s">10<tspan dy="-3.6" font-size="6.24">0</tspan></text>
<text x="1786.92" y="819.00" font-size="8.0" fill="#2c2c2c" class="s">10<tspan dy="-3.6" font-size="6.24">1</tspan></text>
<text x="1822.05" y="819.00" font-size="8.0" fill="#2c2c2c" class="s">10<tspan dy="-3.6" font-size="6.24">2</tspan></text>
<text x="1857.17" y="819.00" font-size="8.0" fill="#2c2c2c" class="s">10<tspan dy="-3.6" font-size="6.24">3</tspan></text>
<text x="1892.30" y="819.00" font-size="8.0" fill="#2c2c2c" class="s">10<tspan dy="-3.6" font-size="6.24">4</tspan></text>
<path d="M1759.2,804.2h-5M1759.2,773.3h-5M1759.2,742.4h-5M1759.2,711.6h-5M1759.2,680.7h-5M1759.2,649.8h-5M1759.2,804.2v4.6M1794.3,804.2v4.6M1829.5,804.2v4.6M1864.6,804.2v4.6M1899.7,804.2v4.6" stroke="#1a1a1a" stroke-width="1.0" fill="none"/>
<path d="M1759.2,796.5h-2.6M1759.2,788.8h-2.6M1759.2,781.0h-2.6M1759.2,765.6h-2.6M1759.2,757.9h-2.6M1759.2,750.2h-2.6M1759.2,734.7h-2.6M1759.2,727.0h-2.6M1759.2,719.3h-2.6M1759.2,703.8h-2.6M1759.2,696.1h-2.6M1759.2,688.4h-2.6M1759.2,673.0h-2.6M1759.2,665.2h-2.6M1759.2,657.5h-2.6M1769.8,804.2v2.6M1776.0,804.2v2.6M1780.3,804.2v2.6M1783.8,804.2v2.6M1786.5,804.2v2.6M1788.9,804.2v2.6M1790.9,804.2v2.6M1792.7,804.2v2.6M1804.9,804.2v2.6M1811.1,804.2v2.6M1815.5,804.2v2.6M1818.9,804.2v2.6M1821.7,804.2v2.6M1824.0,804.2v2.6M1826.0,804.2v2.6M1827.8,804.2v2.6M1840.0,804.2v2.6M1846.2,804.2v2.6M1850.6,804.2v2.6M1854.0,804.2v2.6M1856.8,804.2v2.6M1859.1,804.2v2.6M1861.2,804.2v2.6M1863.0,804.2v2.6M1875.1,804.2v2.6M1881.3,804.2v2.6M1885.7,804.2v2.6M1889.1,804.2v2.6M1891.9,804.2v2.6M1894.3,804.2v2.6M1896.3,804.2v2.6M1898.1,804.2v2.6" stroke="#1a1a1a" stroke-width="0.85" fill="none"/>
<path d="M1760.4,803.9 L1760.4,803.9 L1761.4,803.9 L1762.6,803.9 L1763.7,803.9 L1764.9,803.9 L1766.4,803.9 L1767.7,803.9 L1769.2,803.9 L1770.5,803.9 L1771.7,803.9 L1772.8,803.9 L1774.3,803.9 L1775.3,803.9 L1776.8,803.9 L1777.7,803.9 L1778.7,803.9 L1780.1,803.9 L1781.1,803.9 L1782.6,803.9 L1783.8,803.9 L1785.3,803.9 L1786.5,803.9 L1787.7,803.9 L1788.8,803.9 L1790.0,803.9 L1791.1,803.9 L1792.5,803.9 L1793.9,803.9 L1795.0,803.9 L1796.0,803.9 L1797.2,803.9 L1798.4,803.9 L1799.8,803.9 L1801.0,803.9 L1802.0,803.9 L1803.4,803.9 L1804.9,803.9 L1806.0,803.9 L1807.0,803.9 L1808.2,803.9 L1809.4,803.9 L1810.6,803.9 L1812.0,802.5 L1813.0,803.2 L1813.9,803.2 L1815.0,802.7 L1816.0,800.8 L1817.1,800.8 L1817.8,798.5 L1818.6,800.6 L1819.4,800.1 L1820.4,798.0 L1821.2,799.1 L1822.2,798.2 L1823.1,794.7 L1823.9,798.6 L1824.8,794.5 L1825.5,794.4 L1826.3,791.1 L1827.3,794.6 L1828.1,795.9 L1828.9,793.0 L1829.8,796.5 L1830.6,795.6 L1831.7,797.8 L1832.8,791.4 L1833.6,796.2 L1834.6,798.4 L1835.3,799.8 L1836.4,799.0 L1837.6,799.3 L1838.7,798.6 L1839.5,796.8 L1840.7,795.7 L1841.8,800.2 L1842.9,798.7 L1843.7,799.6 L1844.6,799.5 L1845.6,799.8 L1846.4,801.6 L1847.3,800.8 L1848.0,800.5 L1849.1,800.8 L1850.0,799.7 L1851.0,801.7 L1852.1,801.6 L1853.1,802.0 L1853.9,802.0 L1854.8,799.8 L1855.7,801.3 L1856.4,799.0 L1857.3,801.2 L1858.0,801.1 L1858.9,802.2 L1859.4,801.8 L1860.8,797.9 L1861.8,789.2 L1862.8,775.6 L1863.6,761.1 L1864.2,760.1 L1864.7,750.4 L1865.4,748.0 L1866.0,764.0 L1866.7,765.9 L1867.1,786.3 L1868.1,795.0 L1869.1,786.3 L1870.5,787.2 L1872.0,779.5 L1873.2,767.4 L1873.9,776.6 L1874.6,777.6 L1875.4,789.2 L1876.8,796.9 L1878.3,803.6 L1879.3,803.9 L1880.7,803.9 L1882.1,803.9 L1883.5,803.9 L1884.9,803.9 L1886.3,803.9 L1887.7,803.9 L1889.1,803.9 L1890.5,803.9 L1891.9,803.9 L1893.3,803.9 L1894.7,803.9 L1896.1,803.9 L1897.5,803.9 L1898.7,803.9 Z" fill="#a2a2a2" stroke="#111" stroke-width="0.85" stroke-linejoin="round"/>
<path d="M1759.2,804.2H1899.7" stroke="#1a1a1a" stroke-width="1.6" fill="none"/>
<path d="M1809.0,761.7v16.0M1860.7,761.7v16.0M1809.0,769.7H1860.7" stroke="#2e2e2e" stroke-width="1.4" fill="none"/>
<text font-size="25.2" transform="translate(1796.01 754.50) scale(0.9466 1)">27.4%</text>
<rect x="1587.50" y="835.30" width="144.70" height="153.30" fill="#fff" stroke="#1a1a1a" stroke-width="1.0"/>
<path d="M1587.5,835.3 V988.6 H1732.2" stroke="#1a1a1a" stroke-width="1.6" fill="none"/>
<text font-size="7.7" fill="#2c2c2c" class="s" text-anchor="middle" transform="translate(1581.20 988.60) rotate(-90)">0</text>
<text font-size="7.7" fill="#2c2c2c" class="s" text-anchor="middle" transform="translate(1581.20 957.94) rotate(-90)">40</text>
<text font-size="7.7" fill="#2c2c2c" class="s" text-anchor="middle" transform="translate(1581.20 927.28) rotate(-90)">80</text>
<text font-size="7.7" fill="#2c2c2c" class="s" text-anchor="middle" transform="translate(1581.20 896.62) rotate(-90)">120</text>
<text font-size="7.7" fill="#2c2c2c" class="s" text-anchor="middle" transform="translate(1581.20 865.96) rotate(-90)">160</text>
<text font-size="7.7" fill="#2c2c2c" class="s" text-anchor="middle" transform="translate(1581.20 835.30) rotate(-90)">200</text>
<text x="1580.10" y="1003.40" font-size="8.0" fill="#2c2c2c" class="s">10<tspan dy="-3.6" font-size="6.24">0</tspan></text>
<text x="1616.27" y="1003.40" font-size="8.0" fill="#2c2c2c" class="s">10<tspan dy="-3.6" font-size="6.24">1</tspan></text>
<text x="1652.45" y="1003.40" font-size="8.0" fill="#2c2c2c" class="s">10<tspan dy="-3.6" font-size="6.24">2</tspan></text>
<text x="1688.62" y="1003.40" font-size="8.0" fill="#2c2c2c" class="s">10<tspan dy="-3.6" font-size="6.24">3</tspan></text>
<text x="1724.80" y="1003.40" font-size="8.0" fill="#2c2c2c" class="s">10<tspan dy="-3.6" font-size="6.24">4</tspan></text>
<path d="M1587.5,988.6h-5M1587.5,957.9h-5M1587.5,927.3h-5M1587.5,896.6h-5M1587.5,866.0h-5M1587.5,835.3h-5M1587.5,988.6v4.6M1623.7,988.6v4.6M1659.8,988.6v4.6M1696.0,988.6v4.6M1732.2,988.6v4.6" stroke="#1a1a1a" stroke-width="1.0" fill="none"/>
<path d="M1587.5,980.9h-2.6M1587.5,973.3h-2.6M1587.5,965.6h-2.6M1587.5,950.3h-2.6M1587.5,942.6h-2.6M1587.5,934.9h-2.6M1587.5,919.6h-2.6M1587.5,911.9h-2.6M1587.5,904.3h-2.6M1587.5,889.0h-2.6M1587.5,881.3h-2.6M1587.5,873.6h-2.6M1587.5,858.3h-2.6M1587.5,850.6h-2.6M1587.5,843.0h-2.6M1598.4,988.6v2.6M1604.8,988.6v2.6M1609.3,988.6v2.6M1612.8,988.6v2.6M1615.6,988.6v2.6M1618.1,988.6v2.6M1620.2,988.6v2.6M1622.0,988.6v2.6M1634.6,988.6v2.6M1640.9,988.6v2.6M1645.5,988.6v2.6M1649.0,988.6v2.6M1651.8,988.6v2.6M1654.2,988.6v2.6M1656.3,988.6v2.6M1658.2,988.6v2.6M1670.7,988.6v2.6M1677.1,988.6v2.6M1681.6,988.6v2.6M1685.1,988.6v2.6M1688.0,988.6v2.6M1690.4,988.6v2.6M1692.5,988.6v2.6M1694.4,988.6v2.6M1706.9,988.6v2.6M1713.3,988.6v2.6M1717.8,988.6v2.6M1721.3,988.6v2.6M1724.2,988.6v2.6M1726.6,988.6v2.6M1728.7,988.6v2.6M1730.5,988.6v2.6" stroke="#1a1a1a" stroke-width="0.85" fill="none"/>
<path d="M1588.7,988.3 L1588.7,988.3 L1590.2,988.3 L1591.5,988.3 L1592.9,988.3 L1594.0,988.3 L1595.5,988.3 L1596.7,988.3 L1597.8,988.3 L1599.0,988.3 L1600.3,988.3 L1601.2,988.3 L1602.5,988.3 L1603.9,988.3 L1604.9,988.3 L1606.3,988.3 L1607.7,988.3 L1608.7,988.3 L1609.7,988.3 L1610.8,988.3 L1611.8,988.3 L1613.2,988.3 L1614.4,988.3 L1615.5,988.3 L1616.8,988.3 L1618.0,988.3 L1619.0,988.3 L1620.4,988.3 L1621.8,988.3 L1622.9,988.3 L1623.8,988.3 L1625.0,988.3 L1626.2,988.3 L1627.2,988.3 L1628.4,988.3 L1629.4,988.3 L1630.9,988.3 L1632.2,988.3 L1633.4,988.3 L1634.6,988.3 L1635.6,988.3 L1636.6,988.3 L1637.8,988.3 L1638.9,988.3 L1640.0,988.3 L1640.0,987.9 L1641.0,987.5 L1642.0,987.3 L1642.7,985.9 L1643.6,986.8 L1644.5,986.6 L1645.5,986.4 L1646.3,986.5 L1647.4,986.2 L1648.4,984.9 L1649.2,983.4 L1650.1,982.6 L1650.9,984.4 L1651.8,984.5 L1652.7,983.6 L1653.6,981.2 L1654.5,985.0 L1655.5,984.1 L1656.2,983.4 L1657.3,984.0 L1658.4,985.2 L1659.5,985.0 L1660.7,982.6 L1661.6,984.9 L1662.7,984.3 L1663.7,985.8 L1664.5,984.5 L1665.2,985.2 L1666.4,984.7 L1667.2,986.0 L1668.2,985.1 L1669.1,985.4 L1670.3,985.3 L1671.2,986.5 L1672.2,986.6 L1673.4,985.8 L1674.4,985.7 L1675.1,984.6 L1676.1,986.7 L1677.3,984.7 L1678.5,986.8 L1679.6,986.1 L1680.5,987.0 L1681.5,987.2 L1682.5,985.6 L1683.4,987.1 L1684.3,987.4 L1685.0,987.1 L1686.1,985.9 L1686.9,987.3 L1688.0,987.3 L1689.1,986.0 L1690.2,987.1 L1691.3,986.0 L1692.0,987.3 L1692.9,987.0 L1694.4,981.7 L1695.8,972.0 L1696.6,957.5 L1697.0,932.3 L1697.8,916.8 L1698.4,928.5 L1698.9,950.7 L1699.7,966.2 L1701.2,974.0 L1703.1,976.9 L1704.6,969.1 L1705.5,964.3 L1706.5,960.9 L1707.5,966.2 L1708.0,978.8 L1708.6,988.0 L1709.6,988.3 L1711.0,988.3 L1712.4,988.3 L1713.8,988.3 L1715.2,988.3 L1716.6,988.3 L1718.0,988.3 L1719.4,988.3 L1720.8,988.3 L1722.2,988.3 L1723.6,988.3 L1725.0,988.3 L1726.4,988.3 L1727.8,988.3 L1729.2,988.3 L1730.6,988.3 L1731.2,988.3 Z" fill="#a2a2a2" stroke="#111" stroke-width="0.85" stroke-linejoin="round"/>
<path d="M1587.5,988.6H1732.2" stroke="#1a1a1a" stroke-width="1.6" fill="none"/>
<path d="M1637.3,955.3v13.0M1690.8,955.3v13.0M1637.3,961.8H1690.8" stroke="#2e2e2e" stroke-width="1.4" fill="none"/>
<text font-size="25.2" transform="translate(1628.46 948.70) scale(0.9203 1)">14.1%</text>
<rect x="1757.60" y="834.60" width="140.40" height="153.40" fill="#fff" stroke="#1a1a1a" stroke-width="1.0"/>
<path d="M1757.6,834.6 V988.0 H1898.0" stroke="#1a1a1a" stroke-width="1.6" fill="none"/>
<text font-size="7.7" fill="#2c2c2c" class="s" text-anchor="middle" transform="translate(1751.30 988.00) rotate(-90)">0</text>
<text font-size="7.7" fill="#2c2c2c" class="s" text-anchor="middle" transform="translate(1751.30 957.32) rotate(-90)">20</text>
<text font-size="7.7" fill="#2c2c2c" class="s" text-anchor="middle" transform="translate(1751.30 926.64) rotate(-90)">40</text>
<text font-size="7.7" fill="#2c2c2c" class="s" text-anchor="middle" transform="translate(1751.30 895.96) rotate(-90)">60</text>
<text font-size="7.7" fill="#2c2c2c" class="s" text-anchor="middle" transform="translate(1751.30 865.28) rotate(-90)">80</text>
<text font-size="7.7" fill="#2c2c2c" class="s" text-anchor="middle" transform="translate(1751.30 834.60) rotate(-90)">100</text>
<text x="1750.20" y="1002.80" font-size="8.0" fill="#2c2c2c" class="s">10<tspan dy="-3.6" font-size="6.24">0</tspan></text>
<text x="1785.30" y="1002.80" font-size="8.0" fill="#2c2c2c" class="s">10<tspan dy="-3.6" font-size="6.24">1</tspan></text>
<text x="1820.40" y="1002.80" font-size="8.0" fill="#2c2c2c" class="s">10<tspan dy="-3.6" font-size="6.24">2</tspan></text>
<text x="1855.50" y="1002.80" font-size="8.0" fill="#2c2c2c" class="s">10<tspan dy="-3.6" font-size="6.24">3</tspan></text>
<text x="1890.60" y="1002.80" font-size="8.0" fill="#2c2c2c" class="s">10<tspan dy="-3.6" font-size="6.24">4</tspan></text>
<path d="M1757.6,988.0h-5M1757.6,957.3h-5M1757.6,926.6h-5M1757.6,896.0h-5M1757.6,865.3h-5M1757.6,834.6h-5M1757.6,988.0v4.6M1792.7,988.0v4.6M1827.8,988.0v4.6M1862.9,988.0v4.6M1898.0,988.0v4.6" stroke="#1a1a1a" stroke-width="1.0" fill="none"/>
<path d="M1757.6,980.3h-2.6M1757.6,972.7h-2.6M1757.6,965.0h-2.6M1757.6,949.7h-2.6M1757.6,942.0h-2.6M1757.6,934.3h-2.6M1757.6,919.0h-2.6M1757.6,911.3h-2.6M1757.6,903.6h-2.6M1757.6,888.3h-2.6M1757.6,880.6h-2.6M1757.6,873.0h-2.6M1757.6,857.6h-2.6M1757.6,849.9h-2.6M1757.6,842.3h-2.6M1768.2,988.0v2.6M1774.3,988.0v2.6M1778.7,988.0v2.6M1782.1,988.0v2.6M1784.9,988.0v2.6M1787.3,988.0v2.6M1789.3,988.0v2.6M1791.1,988.0v2.6M1803.3,988.0v2.6M1809.4,988.0v2.6M1813.8,988.0v2.6M1817.2,988.0v2.6M1820.0,988.0v2.6M1822.4,988.0v2.6M1824.4,988.0v2.6M1826.2,988.0v2.6M1838.4,988.0v2.6M1844.5,988.0v2.6M1848.9,988.0v2.6M1852.3,988.0v2.6M1855.1,988.0v2.6M1857.5,988.0v2.6M1859.5,988.0v2.6M1861.3,988.0v2.6M1873.5,988.0v2.6M1879.6,988.0v2.6M1884.0,988.0v2.6M1887.4,988.0v2.6M1890.2,988.0v2.6M1892.6,988.0v2.6M1894.6,988.0v2.6M1896.4,988.0v2.6" stroke="#1a1a1a" stroke-width="0.85" fill="none"/>
<path d="M1758.8,987.7 L1758.8,987.7 L1760.0,987.7 L1761.2,987.7 L1762.7,987.7 L1763.8,987.7 L1764.7,987.7 L1766.2,987.7 L1767.6,987.7 L1769.0,987.7 L1770.2,987.7 L1771.2,987.7 L1772.2,987.7 L1773.4,987.7 L1774.7,987.7 L1776.0,987.7 L1777.1,987.7 L1778.1,987.7 L1779.3,987.7 L1780.2,987.7 L1781.4,987.7 L1782.7,987.7 L1783.9,987.7 L1785.0,987.7 L1786.4,987.7 L1787.6,987.7 L1788.5,987.7 L1789.5,987.7 L1790.7,987.7 L1791.8,987.7 L1793.0,987.7 L1793.9,987.7 L1795.3,987.7 L1796.5,987.7 L1797.7,987.7 L1798.8,987.7 L1799.9,987.7 L1801.1,987.7 L1802.1,987.7 L1803.4,987.7 L1804.4,987.7 L1805.7,987.7 L1806.7,987.7 L1808.0,987.7 L1809.3,987.7 L1810.0,987.4 L1810.8,987.0 L1811.6,986.8 L1812.7,986.2 L1813.8,986.3 L1815.0,983.6 L1816.1,985.2 L1817.1,983.5 L1817.9,984.7 L1819.0,982.8 L1820.2,982.6 L1821.3,980.8 L1822.1,982.4 L1823.3,982.7 L1824.5,979.7 L1825.7,981.5 L1826.4,976.4 L1827.3,980.5 L1828.3,981.0 L1829.4,979.0 L1830.4,981.1 L1831.3,982.3 L1832.1,981.8 L1832.9,982.9 L1833.7,981.4 L1834.7,983.6 L1835.6,982.2 L1836.7,982.2 L1837.6,981.3 L1838.7,983.3 L1839.9,982.9 L1840.6,982.2 L1841.6,978.6 L1842.5,982.9 L1843.4,982.2 L1844.4,983.3 L1845.5,980.4 L1846.3,983.3 L1847.5,984.7 L1848.2,984.1 L1849.1,984.6 L1849.9,984.0 L1851.1,983.2 L1852.0,984.6 L1852.9,981.4 L1853.9,983.7 L1854.9,982.4 L1856.1,985.2 L1857.2,984.7 L1858.1,984.8 L1858.8,985.1 L1859.0,985.5 L1860.5,979.9 L1861.2,957.6 L1861.6,935.4 L1862.1,913.1 L1862.5,895.8 L1863.1,913.1 L1863.8,946.5 L1865.1,964.3 L1866.3,971.0 L1867.4,975.5 L1868.5,966.5 L1869.6,957.6 L1871.0,950.4 L1872.0,957.6 L1872.9,968.8 L1874.3,977.7 L1875.7,984.4 L1876.5,987.4 L1877.5,987.7 L1878.9,987.7 L1880.3,987.7 L1881.7,987.7 L1883.1,987.7 L1884.5,987.7 L1885.9,987.7 L1887.3,987.7 L1888.7,987.7 L1890.1,987.7 L1891.5,987.7 L1892.9,987.7 L1894.3,987.7 L1895.7,987.7 L1897.0,987.7 Z" fill="#a2a2a2" stroke="#111" stroke-width="0.85" stroke-linejoin="round"/>
<path d="M1757.6,988.0H1898.0" stroke="#1a1a1a" stroke-width="1.6" fill="none"/>
<path d="M1806.7,945.3v16.4M1858.7,945.3v16.4M1806.7,953.5H1858.7" stroke="#2e2e2e" stroke-width="1.4" fill="none"/>
<text font-size="25.2" transform="translate(1793.93 939.00) scale(0.9278 1)">26.9%</text>
</g>
</svg>
</body>
</html>
